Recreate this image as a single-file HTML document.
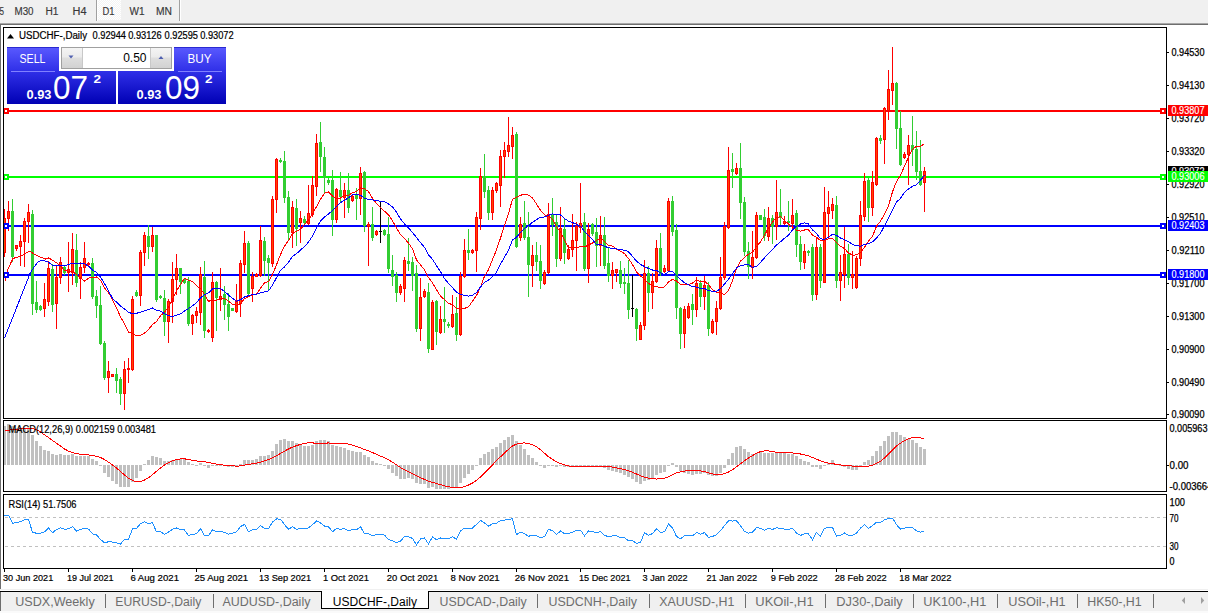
<!DOCTYPE html>
<html><head><meta charset="utf-8"><style>html,body{margin:0;padding:0;width:1208px;height:613px;overflow:hidden;background:#fff}</style></head>
<body><svg width="1208" height="613" style="position:absolute;left:0;top:0" shape-rendering="crispEdges" font-family='"Liberation Sans", sans-serif'><defs><pattern id="dither" width="2" height="2" patternUnits="userSpaceOnUse"><rect width="2" height="2" fill="#f4f4f4"/><rect width="1" height="1" fill="#ffffff"/><rect x="1" y="1" width="1" height="1" fill="#ffffff"/></pattern>
<linearGradient id="gBot" gradientUnits="userSpaceOnUse" x1="0" y1="47" x2="0" y2="104"><stop offset="0" stop-color="#5a5aff"/><stop offset="0.42" stop-color="#3030e8"/><stop offset="1" stop-color="#0000b4"/></linearGradient>
<linearGradient id="gBtn" x1="0" y1="0" x2="0" y2="1"><stop offset="0" stop-color="#f4f4f4"/><stop offset="0.45" stop-color="#ebebeb"/><stop offset="0.5" stop-color="#dedede"/><stop offset="1" stop-color="#d2d2d2"/></linearGradient>
</defs><rect x="0" y="0" width="1208" height="23" fill="#f0f0f0" /><rect x="97" y="0" width="24" height="20" fill="url(#dither)" /><rect x="96" y="0" width="1" height="21" fill="#a0a0a0" /><rect x="97" y="0" width="1" height="21" fill="#ffffff" /><rect x="179" y="0" width="1" height="21" fill="#a0a0a0" /><rect x="180" y="0" width="1" height="21" fill="#ffffff" /><text x="-0.5" y="15" font-size="10" fill="#383838" font-weight="normal" text-anchor="start" textLength="4.5" lengthAdjust="spacingAndGlyphs" stroke="#383838" stroke-width="0.15" >5</text><text x="14.5" y="15" font-size="10" fill="#383838" font-weight="normal" text-anchor="start" textLength="19" lengthAdjust="spacingAndGlyphs" stroke="#383838" stroke-width="0.15" >M30</text><text x="45.5" y="15" font-size="10" fill="#383838" font-weight="normal" text-anchor="start" textLength="13" lengthAdjust="spacingAndGlyphs" stroke="#383838" stroke-width="0.15" >H1</text><text x="72.5" y="15" font-size="10" fill="#383838" font-weight="normal" text-anchor="start" textLength="14" lengthAdjust="spacingAndGlyphs" stroke="#383838" stroke-width="0.15" >H4</text><text x="102.5" y="15" font-size="10" fill="#383838" font-weight="normal" text-anchor="start" textLength="12" lengthAdjust="spacingAndGlyphs" stroke="#383838" stroke-width="0.15" >D1</text><text x="129.5" y="15" font-size="10" fill="#383838" font-weight="normal" text-anchor="start" textLength="15" lengthAdjust="spacingAndGlyphs" stroke="#383838" stroke-width="0.15" >W1</text><text x="156" y="15" font-size="10" fill="#383838" font-weight="normal" text-anchor="start" textLength="16" lengthAdjust="spacingAndGlyphs" stroke="#383838" stroke-width="0.15" >MN</text><rect x="0" y="23" width="1208" height="1" fill="#a8a8a8" /><rect x="0" y="24" width="1208" height="1" fill="#6e6e6e" /><rect x="0" y="25" width="1" height="564" fill="#6e6e6e" /><rect x="1" y="25" width="1166" height="564" fill="#ffffff" /><clipPath id="cMain"><rect x="4" y="28" width="1162" height="390"/></clipPath><clipPath id="cMacd"><rect x="4" y="421" width="1162" height="70"/></clipPath><clipPath id="cRsi"><rect x="4" y="495" width="1162" height="73"/></clipPath><g clip-path="url(#cMain)"><rect x="4" y="110" width="1162" height="2" fill="#ff0000" /><rect x="4" y="176" width="1162" height="2" fill="#00ff00" /><rect x="4" y="225" width="1162" height="2" fill="#0000ff" /><rect x="4" y="274" width="1162" height="2" fill="#0000ff" /><rect x="4" y="209.0" width="1" height="48.0" fill="#ff0000"/><rect x="3" y="218.0" width="3" height="35.0" fill="#ff0000"/><rect x="4" y="219.0" width="1" height="33.0" fill="#ff4500"/><rect x="8" y="201.0" width="1" height="30.0" fill="#ff0000"/><rect x="7" y="211.0" width="3" height="8.0" fill="#ff0000"/><rect x="8" y="212.0" width="1" height="6.0" fill="#ff4500"/><rect x="12" y="199.0" width="1" height="63.0" fill="#32cd32"/><rect x="11" y="211.0" width="3" height="46.0" fill="#32cd32"/><rect x="16" y="245.0" width="1" height="6.0" fill="#ff0000"/><rect x="15" y="245.0" width="3" height="4.0" fill="#ff0000"/><rect x="16" y="246.0" width="1" height="2.0" fill="#ff4500"/><rect x="20" y="235.0" width="1" height="31.0" fill="#ff0000"/><rect x="19" y="241.0" width="3" height="6.0" fill="#ff0000"/><rect x="20" y="242.0" width="1" height="4.0" fill="#ff4500"/><rect x="24" y="218.0" width="1" height="49.0" fill="#ff0000"/><rect x="23" y="221.0" width="3" height="21.0" fill="#ff0000"/><rect x="24" y="222.0" width="1" height="19.0" fill="#ff4500"/><rect x="28" y="204.0" width="1" height="39.0" fill="#ff0000"/><rect x="27" y="212.0" width="3" height="10.0" fill="#ff0000"/><rect x="28" y="213.0" width="1" height="8.0" fill="#ff4500"/><rect x="32" y="210.0" width="1" height="105.0" fill="#32cd32"/><rect x="31" y="214.0" width="3" height="90.0" fill="#32cd32"/><rect x="36" y="281.0" width="1" height="32.0" fill="#32cd32"/><rect x="35" y="302.0" width="3" height="8.0" fill="#32cd32"/><rect x="40" y="305.0" width="1" height="6.0" fill="#32cd32"/><rect x="39" y="306.0" width="3" height="4.0" fill="#32cd32"/><rect x="44" y="283.0" width="1" height="34.0" fill="#ff0000"/><rect x="43" y="299.0" width="3" height="10.0" fill="#ff0000"/><rect x="44" y="300.0" width="1" height="8.0" fill="#ff4500"/><rect x="48" y="261.0" width="1" height="45.0" fill="#ff0000"/><rect x="47" y="268.0" width="3" height="34.0" fill="#ff0000"/><rect x="48" y="269.0" width="1" height="32.0" fill="#ff4500"/><rect x="52" y="264.0" width="1" height="48.0" fill="#32cd32"/><rect x="51" y="269.0" width="3" height="36.0" fill="#32cd32"/><rect x="56" y="265.0" width="1" height="64.0" fill="#ff0000"/><rect x="55" y="277.0" width="3" height="27.0" fill="#ff0000"/><rect x="56" y="278.0" width="1" height="25.0" fill="#ff4500"/><rect x="60" y="257.0" width="1" height="27.0" fill="#ff0000"/><rect x="59" y="262.0" width="3" height="16.0" fill="#ff0000"/><rect x="60" y="263.0" width="1" height="14.0" fill="#ff4500"/><rect x="64" y="266.0" width="1" height="9.0" fill="#32cd32"/><rect x="63" y="267.0" width="3" height="6.0" fill="#32cd32"/><rect x="68" y="242.0" width="1" height="50.0" fill="#ff0000"/><rect x="67" y="269.0" width="3" height="4.0" fill="#ff0000"/><rect x="68" y="270.0" width="1" height="2.0" fill="#ff4500"/><rect x="72" y="233.0" width="1" height="52.0" fill="#ff0000"/><rect x="71" y="249.0" width="3" height="24.0" fill="#ff0000"/><rect x="72" y="250.0" width="1" height="22.0" fill="#ff4500"/><rect x="76" y="234.0" width="1" height="53.0" fill="#32cd32"/><rect x="75" y="250.0" width="3" height="33.0" fill="#32cd32"/><rect x="80" y="262.0" width="1" height="37.0" fill="#ff0000"/><rect x="79" y="267.0" width="3" height="12.0" fill="#ff0000"/><rect x="80" y="268.0" width="1" height="10.0" fill="#ff4500"/><rect x="84" y="242.0" width="1" height="31.0" fill="#ff0000"/><rect x="83" y="258.0" width="3" height="10.0" fill="#ff0000"/><rect x="84" y="259.0" width="1" height="8.0" fill="#ff4500"/><rect x="88" y="262.0" width="1" height="5.0" fill="#ff0000"/><rect x="87" y="263.0" width="3" height="2.0" fill="#ff0000"/><rect x="92" y="258.0" width="1" height="41.0" fill="#32cd32"/><rect x="91" y="263.0" width="3" height="34.0" fill="#32cd32"/><rect x="96" y="290.0" width="1" height="28.0" fill="#32cd32"/><rect x="95" y="296.0" width="3" height="10.0" fill="#32cd32"/><rect x="100" y="286.0" width="1" height="59.0" fill="#32cd32"/><rect x="99" y="305.0" width="3" height="39.0" fill="#32cd32"/><rect x="104" y="341.0" width="1" height="39.0" fill="#32cd32"/><rect x="103" y="343.0" width="3" height="35.0" fill="#32cd32"/><rect x="108" y="361.0" width="1" height="32.0" fill="#ff0000"/><rect x="107" y="371.0" width="3" height="7.0" fill="#ff0000"/><rect x="108" y="372.0" width="1" height="5.0" fill="#ff4500"/><rect x="112" y="374.0" width="1" height="3.0" fill="#ff0000"/><rect x="111" y="374.0" width="3" height="3.0" fill="#ff0000"/><rect x="112" y="375.0" width="1" height="1.0" fill="#ff4500"/><rect x="116" y="368.0" width="1" height="25.0" fill="#32cd32"/><rect x="115" y="374.0" width="3" height="7.0" fill="#32cd32"/><rect x="120" y="377.0" width="1" height="28.0" fill="#32cd32"/><rect x="119" y="379.0" width="3" height="15.0" fill="#32cd32"/><rect x="124" y="361.0" width="1" height="49.0" fill="#ff0000"/><rect x="123" y="369.0" width="3" height="25.0" fill="#ff0000"/><rect x="124" y="370.0" width="1" height="23.0" fill="#ff4500"/><rect x="128" y="358.0" width="1" height="25.0" fill="#ff0000"/><rect x="127" y="368.0" width="3" height="2.0" fill="#ff0000"/><rect x="132" y="296.0" width="1" height="75.0" fill="#ff0000"/><rect x="131" y="299.0" width="3" height="71.0" fill="#ff0000"/><rect x="132" y="300.0" width="1" height="69.0" fill="#ff4500"/><rect x="136" y="290.0" width="1" height="7.0" fill="#32cd32"/><rect x="135" y="292.0" width="3" height="4.0" fill="#32cd32"/><rect x="140" y="250.0" width="1" height="56.0" fill="#ff0000"/><rect x="139" y="252.0" width="3" height="44.0" fill="#ff0000"/><rect x="140" y="253.0" width="1" height="42.0" fill="#ff4500"/><rect x="144" y="232.0" width="1" height="34.0" fill="#ff0000"/><rect x="143" y="235.0" width="3" height="18.0" fill="#ff0000"/><rect x="144" y="236.0" width="1" height="16.0" fill="#ff4500"/><rect x="148" y="225.0" width="1" height="34.0" fill="#32cd32"/><rect x="147" y="236.0" width="3" height="11.0" fill="#32cd32"/><rect x="152" y="227.0" width="1" height="25.0" fill="#ff0000"/><rect x="151" y="235.0" width="3" height="12.0" fill="#ff0000"/><rect x="152" y="236.0" width="1" height="10.0" fill="#ff4500"/><rect x="156" y="235.0" width="1" height="67.0" fill="#32cd32"/><rect x="155" y="235.0" width="3" height="65.0" fill="#32cd32"/><rect x="160" y="295.0" width="1" height="4.0" fill="#32cd32"/><rect x="159" y="296.0" width="3" height="2.0" fill="#32cd32"/><rect x="164" y="290.0" width="1" height="46.0" fill="#32cd32"/><rect x="163" y="298.0" width="3" height="24.0" fill="#32cd32"/><rect x="168" y="299.0" width="1" height="44.0" fill="#ff0000"/><rect x="167" y="301.0" width="3" height="21.0" fill="#ff0000"/><rect x="168" y="302.0" width="1" height="19.0" fill="#ff4500"/><rect x="172" y="262.0" width="1" height="61.0" fill="#ff0000"/><rect x="171" y="279.0" width="3" height="23.0" fill="#ff0000"/><rect x="172" y="280.0" width="1" height="21.0" fill="#ff4500"/><rect x="176" y="254.0" width="1" height="41.0" fill="#ff0000"/><rect x="175" y="268.0" width="3" height="12.0" fill="#ff0000"/><rect x="176" y="269.0" width="1" height="10.0" fill="#ff4500"/><rect x="180" y="268.0" width="1" height="26.0" fill="#32cd32"/><rect x="179" y="268.0" width="3" height="14.0" fill="#32cd32"/><rect x="184" y="278.0" width="1" height="6.0" fill="#32cd32"/><rect x="183" y="279.0" width="3" height="4.0" fill="#32cd32"/><rect x="188" y="277.0" width="1" height="49.0" fill="#32cd32"/><rect x="187" y="281.0" width="3" height="43.0" fill="#32cd32"/><rect x="192" y="314.0" width="1" height="21.0" fill="#ff0000"/><rect x="191" y="315.0" width="3" height="9.0" fill="#ff0000"/><rect x="192" y="316.0" width="1" height="7.0" fill="#ff4500"/><rect x="196" y="307.0" width="1" height="16.0" fill="#ff0000"/><rect x="195" y="311.0" width="3" height="5.0" fill="#ff0000"/><rect x="196" y="312.0" width="1" height="3.0" fill="#ff4500"/><rect x="200" y="267.0" width="1" height="58.0" fill="#ff0000"/><rect x="199" y="274.0" width="3" height="39.0" fill="#ff0000"/><rect x="200" y="275.0" width="1" height="37.0" fill="#ff4500"/><rect x="204" y="261.0" width="1" height="77.0" fill="#32cd32"/><rect x="203" y="277.0" width="3" height="54.0" fill="#32cd32"/><rect x="208" y="329.0" width="1" height="4.0" fill="#ff0000"/><rect x="207" y="330.0" width="3" height="2.0" fill="#ff0000"/><rect x="212" y="272.0" width="1" height="70.0" fill="#ff0000"/><rect x="211" y="282.0" width="3" height="56.0" fill="#ff0000"/><rect x="212" y="283.0" width="1" height="54.0" fill="#ff4500"/><rect x="216" y="281.0" width="1" height="50.0" fill="#32cd32"/><rect x="215" y="282.0" width="3" height="16.0" fill="#32cd32"/><rect x="220" y="268.0" width="1" height="43.0" fill="#ff0000"/><rect x="219" y="296.0" width="3" height="4.0" fill="#ff0000"/><rect x="220" y="297.0" width="1" height="2.0" fill="#ff4500"/><rect x="224" y="286.0" width="1" height="34.0" fill="#32cd32"/><rect x="223" y="294.0" width="3" height="11.0" fill="#32cd32"/><rect x="228" y="293.0" width="1" height="38.0" fill="#32cd32"/><rect x="227" y="304.0" width="3" height="13.0" fill="#32cd32"/><rect x="232" y="308.0" width="1" height="3.0" fill="#32cd32"/><rect x="231" y="308.0" width="3" height="3.0" fill="#32cd32"/><rect x="236" y="284.0" width="1" height="29.0" fill="#ff0000"/><rect x="235" y="301.0" width="3" height="11.0" fill="#ff0000"/><rect x="236" y="302.0" width="1" height="9.0" fill="#ff4500"/><rect x="240" y="260.0" width="1" height="57.0" fill="#ff0000"/><rect x="239" y="263.0" width="3" height="41.0" fill="#ff0000"/><rect x="240" y="264.0" width="1" height="39.0" fill="#ff4500"/><rect x="244" y="231.0" width="1" height="42.0" fill="#ff0000"/><rect x="243" y="243.0" width="3" height="22.0" fill="#ff0000"/><rect x="244" y="244.0" width="1" height="20.0" fill="#ff4500"/><rect x="248" y="241.0" width="1" height="54.0" fill="#32cd32"/><rect x="247" y="243.0" width="3" height="51.0" fill="#32cd32"/><rect x="252" y="272.0" width="1" height="30.0" fill="#ff0000"/><rect x="251" y="276.0" width="3" height="13.0" fill="#ff0000"/><rect x="252" y="277.0" width="1" height="11.0" fill="#ff4500"/><rect x="256" y="273.0" width="1" height="4.0" fill="#ff0000"/><rect x="255" y="274.0" width="3" height="3.0" fill="#ff0000"/><rect x="256" y="275.0" width="1" height="1.0" fill="#ff4500"/><rect x="260" y="226.0" width="1" height="51.0" fill="#ff0000"/><rect x="259" y="240.0" width="3" height="36.0" fill="#ff0000"/><rect x="260" y="241.0" width="1" height="34.0" fill="#ff4500"/><rect x="264" y="237.0" width="1" height="39.0" fill="#32cd32"/><rect x="263" y="241.0" width="3" height="20.0" fill="#32cd32"/><rect x="268" y="255.0" width="1" height="36.0" fill="#32cd32"/><rect x="267" y="258.0" width="3" height="5.0" fill="#32cd32"/><rect x="272" y="196.0" width="1" height="71.0" fill="#ff0000"/><rect x="271" y="199.0" width="3" height="65.0" fill="#ff0000"/><rect x="272" y="200.0" width="1" height="63.0" fill="#ff4500"/><rect x="276" y="158.0" width="1" height="55.0" fill="#ff0000"/><rect x="275" y="159.0" width="3" height="41.0" fill="#ff0000"/><rect x="276" y="160.0" width="1" height="39.0" fill="#ff4500"/><rect x="280" y="158.0" width="1" height="5.0" fill="#32cd32"/><rect x="279" y="160.0" width="3" height="2.0" fill="#32cd32"/><rect x="284" y="151.0" width="1" height="52.0" fill="#32cd32"/><rect x="283" y="161.0" width="3" height="37.0" fill="#32cd32"/><rect x="288" y="191.0" width="1" height="49.0" fill="#32cd32"/><rect x="287" y="197.0" width="3" height="36.0" fill="#32cd32"/><rect x="292" y="201.0" width="1" height="47.0" fill="#ff0000"/><rect x="291" y="207.0" width="3" height="26.0" fill="#ff0000"/><rect x="292" y="208.0" width="1" height="24.0" fill="#ff4500"/><rect x="296" y="199.0" width="1" height="47.0" fill="#32cd32"/><rect x="295" y="208.0" width="3" height="21.0" fill="#32cd32"/><rect x="300" y="211.0" width="1" height="32.0" fill="#ff0000"/><rect x="299" y="218.0" width="3" height="5.0" fill="#ff0000"/><rect x="300" y="219.0" width="1" height="3.0" fill="#ff4500"/><rect x="304" y="216.0" width="1" height="8.0" fill="#32cd32"/><rect x="303" y="219.0" width="3" height="4.0" fill="#32cd32"/><rect x="308" y="185.0" width="1" height="40.0" fill="#ff0000"/><rect x="307" y="213.0" width="3" height="11.0" fill="#ff0000"/><rect x="308" y="214.0" width="1" height="9.0" fill="#ff4500"/><rect x="312" y="176.0" width="1" height="41.0" fill="#ff0000"/><rect x="311" y="185.0" width="3" height="30.0" fill="#ff0000"/><rect x="312" y="186.0" width="1" height="28.0" fill="#ff4500"/><rect x="316" y="134.0" width="1" height="62.0" fill="#ff0000"/><rect x="315" y="143.0" width="3" height="44.0" fill="#ff0000"/><rect x="316" y="144.0" width="1" height="42.0" fill="#ff4500"/><rect x="320" y="122.0" width="1" height="50.0" fill="#32cd32"/><rect x="319" y="142.0" width="3" height="15.0" fill="#32cd32"/><rect x="324" y="147.0" width="1" height="46.0" fill="#32cd32"/><rect x="323" y="157.0" width="3" height="21.0" fill="#32cd32"/><rect x="328" y="178.0" width="1" height="7.0" fill="#32cd32"/><rect x="327" y="180.0" width="3" height="3.0" fill="#32cd32"/><rect x="332" y="170.0" width="1" height="66.0" fill="#32cd32"/><rect x="331" y="180.0" width="3" height="40.0" fill="#32cd32"/><rect x="336" y="188.0" width="1" height="35.0" fill="#ff0000"/><rect x="335" y="189.0" width="3" height="31.0" fill="#ff0000"/><rect x="336" y="190.0" width="1" height="29.0" fill="#ff4500"/><rect x="340" y="172.0" width="1" height="31.0" fill="#32cd32"/><rect x="339" y="190.0" width="3" height="7.0" fill="#32cd32"/><rect x="344" y="183.0" width="1" height="35.0" fill="#ff0000"/><rect x="343" y="190.0" width="3" height="8.0" fill="#ff0000"/><rect x="344" y="191.0" width="1" height="6.0" fill="#ff4500"/><rect x="348" y="173.0" width="1" height="40.0" fill="#32cd32"/><rect x="347" y="190.0" width="3" height="18.0" fill="#32cd32"/><rect x="352" y="194.0" width="1" height="8.0" fill="#ff0000"/><rect x="351" y="196.0" width="3" height="5.0" fill="#ff0000"/><rect x="352" y="197.0" width="1" height="3.0" fill="#ff4500"/><rect x="356" y="188.0" width="1" height="32.0" fill="#32cd32"/><rect x="355" y="194.0" width="3" height="5.0" fill="#32cd32"/><rect x="360" y="167.0" width="1" height="48.0" fill="#ff0000"/><rect x="359" y="173.0" width="3" height="26.0" fill="#ff0000"/><rect x="360" y="174.0" width="1" height="24.0" fill="#ff4500"/><rect x="364" y="171.0" width="1" height="61.0" fill="#32cd32"/><rect x="363" y="172.0" width="3" height="54.0" fill="#32cd32"/><rect x="368" y="222.0" width="1" height="44.0" fill="#ff0000"/><rect x="367" y="224.0" width="3" height="3.0" fill="#ff0000"/><rect x="368" y="225.0" width="1" height="1.0" fill="#ff4500"/><rect x="372" y="207.0" width="1" height="34.0" fill="#32cd32"/><rect x="371" y="224.0" width="3" height="14.0" fill="#32cd32"/><rect x="376" y="230.0" width="1" height="6.0" fill="#ff0000"/><rect x="375" y="231.0" width="3" height="4.0" fill="#ff0000"/><rect x="376" y="232.0" width="1" height="2.0" fill="#ff4500"/><rect x="380" y="201.0" width="1" height="42.0" fill="#000000"/><rect x="379" y="231.0" width="3" height="1.0" fill="#000000"/><rect x="384" y="229.0" width="1" height="7.0" fill="#32cd32"/><rect x="383" y="230.0" width="3" height="5.0" fill="#32cd32"/><rect x="388" y="217.0" width="1" height="56.0" fill="#32cd32"/><rect x="387" y="234.0" width="3" height="35.0" fill="#32cd32"/><rect x="392" y="255.0" width="1" height="31.0" fill="#32cd32"/><rect x="391" y="270.0" width="3" height="7.0" fill="#32cd32"/><rect x="396" y="272.0" width="1" height="30.0" fill="#32cd32"/><rect x="395" y="275.0" width="3" height="18.0" fill="#32cd32"/><rect x="400" y="284.0" width="1" height="11.0" fill="#ff0000"/><rect x="399" y="286.0" width="3" height="7.0" fill="#ff0000"/><rect x="400" y="287.0" width="1" height="5.0" fill="#ff4500"/><rect x="404" y="257.0" width="1" height="45.0" fill="#ff0000"/><rect x="403" y="260.0" width="3" height="29.0" fill="#ff0000"/><rect x="404" y="261.0" width="1" height="27.0" fill="#ff4500"/><rect x="408" y="238.0" width="1" height="33.0" fill="#32cd32"/><rect x="407" y="261.0" width="3" height="3.0" fill="#32cd32"/><rect x="412" y="257.0" width="1" height="34.0" fill="#32cd32"/><rect x="411" y="262.0" width="3" height="14.0" fill="#32cd32"/><rect x="416" y="265.0" width="1" height="67.0" fill="#32cd32"/><rect x="415" y="273.0" width="3" height="56.0" fill="#32cd32"/><rect x="420" y="278.0" width="1" height="63.0" fill="#ff0000"/><rect x="419" y="297.0" width="3" height="32.0" fill="#ff0000"/><rect x="420" y="298.0" width="1" height="30.0" fill="#ff4500"/><rect x="424" y="289.0" width="1" height="9.0" fill="#ff0000"/><rect x="423" y="291.0" width="3" height="6.0" fill="#ff0000"/><rect x="424" y="292.0" width="1" height="4.0" fill="#ff4500"/><rect x="428" y="283.0" width="1" height="70.0" fill="#32cd32"/><rect x="427" y="292.0" width="3" height="57.0" fill="#32cd32"/><rect x="432" y="300.0" width="1" height="50.0" fill="#ff0000"/><rect x="431" y="302.0" width="3" height="48.0" fill="#ff0000"/><rect x="432" y="303.0" width="1" height="46.0" fill="#ff4500"/><rect x="436" y="300.0" width="1" height="45.0" fill="#32cd32"/><rect x="435" y="301.0" width="3" height="31.0" fill="#32cd32"/><rect x="440" y="306.0" width="1" height="28.0" fill="#ff0000"/><rect x="439" y="319.0" width="3" height="14.0" fill="#ff0000"/><rect x="440" y="320.0" width="1" height="12.0" fill="#ff4500"/><rect x="444" y="287.0" width="1" height="46.0" fill="#32cd32"/><rect x="443" y="319.0" width="3" height="3.0" fill="#32cd32"/><rect x="448" y="322.0" width="1" height="6.0" fill="#32cd32"/><rect x="447" y="324.0" width="3" height="2.0" fill="#32cd32"/><rect x="452" y="295.0" width="1" height="33.0" fill="#ff0000"/><rect x="451" y="314.0" width="3" height="13.0" fill="#ff0000"/><rect x="452" y="315.0" width="1" height="11.0" fill="#ff4500"/><rect x="456" y="297.0" width="1" height="44.0" fill="#32cd32"/><rect x="455" y="313.0" width="3" height="22.0" fill="#32cd32"/><rect x="460" y="272.0" width="1" height="64.0" fill="#ff0000"/><rect x="459" y="276.0" width="3" height="59.0" fill="#ff0000"/><rect x="460" y="277.0" width="1" height="57.0" fill="#ff4500"/><rect x="464" y="239.0" width="1" height="39.0" fill="#ff0000"/><rect x="463" y="250.0" width="3" height="27.0" fill="#ff0000"/><rect x="464" y="251.0" width="1" height="25.0" fill="#ff4500"/><rect x="468" y="229.0" width="1" height="31.0" fill="#32cd32"/><rect x="467" y="250.0" width="3" height="3.0" fill="#32cd32"/><rect x="472" y="249.0" width="1" height="5.0" fill="#ff0000"/><rect x="471" y="250.0" width="3" height="3.0" fill="#ff0000"/><rect x="472" y="251.0" width="1" height="1.0" fill="#ff4500"/><rect x="476" y="212.0" width="1" height="60.0" fill="#ff0000"/><rect x="475" y="217.0" width="3" height="34.0" fill="#ff0000"/><rect x="476" y="218.0" width="1" height="32.0" fill="#ff4500"/><rect x="480" y="168.0" width="1" height="62.0" fill="#ff0000"/><rect x="479" y="176.0" width="3" height="43.0" fill="#ff0000"/><rect x="480" y="177.0" width="1" height="41.0" fill="#ff4500"/><rect x="484" y="154.0" width="1" height="44.0" fill="#32cd32"/><rect x="483" y="176.0" width="3" height="16.0" fill="#32cd32"/><rect x="488" y="186.0" width="1" height="34.0" fill="#32cd32"/><rect x="487" y="190.0" width="3" height="23.0" fill="#32cd32"/><rect x="492" y="187.0" width="1" height="33.0" fill="#ff0000"/><rect x="491" y="190.0" width="3" height="23.0" fill="#ff0000"/><rect x="492" y="191.0" width="1" height="21.0" fill="#ff4500"/><rect x="496" y="182.0" width="1" height="11.0" fill="#ff0000"/><rect x="495" y="183.0" width="3" height="8.0" fill="#ff0000"/><rect x="496" y="184.0" width="1" height="6.0" fill="#ff4500"/><rect x="500" y="150.0" width="1" height="57.0" fill="#ff0000"/><rect x="499" y="156.0" width="3" height="30.0" fill="#ff0000"/><rect x="500" y="157.0" width="1" height="28.0" fill="#ff4500"/><rect x="504" y="142.0" width="1" height="36.0" fill="#ff0000"/><rect x="503" y="150.0" width="3" height="7.0" fill="#ff0000"/><rect x="504" y="151.0" width="1" height="5.0" fill="#ff4500"/><rect x="508" y="117.0" width="1" height="40.0" fill="#ff0000"/><rect x="507" y="145.0" width="3" height="7.0" fill="#ff0000"/><rect x="508" y="146.0" width="1" height="5.0" fill="#ff4500"/><rect x="512" y="127.0" width="1" height="32.0" fill="#ff0000"/><rect x="511" y="135.0" width="3" height="12.0" fill="#ff0000"/><rect x="512" y="136.0" width="1" height="10.0" fill="#ff4500"/><rect x="516" y="132.0" width="1" height="116.0" fill="#32cd32"/><rect x="515" y="134.0" width="3" height="113.0" fill="#32cd32"/><rect x="520" y="217.0" width="1" height="24.0" fill="#ff0000"/><rect x="519" y="224.0" width="3" height="14.0" fill="#ff0000"/><rect x="520" y="225.0" width="1" height="12.0" fill="#ff4500"/><rect x="524" y="201.0" width="1" height="39.0" fill="#32cd32"/><rect x="523" y="223.0" width="3" height="15.0" fill="#32cd32"/><rect x="528" y="212.0" width="1" height="85.0" fill="#32cd32"/><rect x="527" y="237.0" width="3" height="28.0" fill="#32cd32"/><rect x="532" y="245.0" width="1" height="42.0" fill="#ff0000"/><rect x="531" y="255.0" width="3" height="11.0" fill="#ff0000"/><rect x="532" y="256.0" width="1" height="9.0" fill="#ff4500"/><rect x="536" y="242.0" width="1" height="29.0" fill="#32cd32"/><rect x="535" y="255.0" width="3" height="7.0" fill="#32cd32"/><rect x="540" y="245.0" width="1" height="44.0" fill="#32cd32"/><rect x="539" y="261.0" width="3" height="20.0" fill="#32cd32"/><rect x="544" y="270.0" width="1" height="15.0" fill="#ff0000"/><rect x="543" y="272.0" width="3" height="12.0" fill="#ff0000"/><rect x="544" y="273.0" width="1" height="10.0" fill="#ff4500"/><rect x="548" y="203.0" width="1" height="71.0" fill="#ff0000"/><rect x="547" y="214.0" width="3" height="59.0" fill="#ff0000"/><rect x="548" y="215.0" width="1" height="57.0" fill="#ff4500"/><rect x="552" y="198.0" width="1" height="38.0" fill="#32cd32"/><rect x="551" y="214.0" width="3" height="11.0" fill="#32cd32"/><rect x="556" y="215.0" width="1" height="52.0" fill="#32cd32"/><rect x="555" y="222.0" width="3" height="37.0" fill="#32cd32"/><rect x="560" y="207.0" width="1" height="54.0" fill="#ff0000"/><rect x="559" y="228.0" width="3" height="31.0" fill="#ff0000"/><rect x="560" y="229.0" width="1" height="29.0" fill="#ff4500"/><rect x="564" y="219.0" width="1" height="45.0" fill="#32cd32"/><rect x="563" y="229.0" width="3" height="24.0" fill="#32cd32"/><rect x="568" y="245.0" width="1" height="15.0" fill="#ff0000"/><rect x="567" y="249.0" width="3" height="10.0" fill="#ff0000"/><rect x="568" y="250.0" width="1" height="8.0" fill="#ff4500"/><rect x="572" y="214.0" width="1" height="43.0" fill="#ff0000"/><rect x="571" y="240.0" width="3" height="10.0" fill="#ff0000"/><rect x="572" y="241.0" width="1" height="8.0" fill="#ff4500"/><rect x="576" y="222.0" width="1" height="49.0" fill="#ff0000"/><rect x="575" y="226.0" width="3" height="15.0" fill="#ff0000"/><rect x="576" y="227.0" width="1" height="13.0" fill="#ff4500"/><rect x="580" y="183.0" width="1" height="50.0" fill="#ff0000"/><rect x="579" y="223.0" width="3" height="5.0" fill="#ff0000"/><rect x="580" y="224.0" width="1" height="3.0" fill="#ff4500"/><rect x="584" y="213.0" width="1" height="58.0" fill="#32cd32"/><rect x="583" y="222.0" width="3" height="47.0" fill="#32cd32"/><rect x="588" y="223.0" width="1" height="60.0" fill="#ff0000"/><rect x="587" y="229.0" width="3" height="40.0" fill="#ff0000"/><rect x="588" y="230.0" width="1" height="38.0" fill="#ff4500"/><rect x="592" y="223.0" width="1" height="13.0" fill="#32cd32"/><rect x="591" y="224.0" width="3" height="10.0" fill="#32cd32"/><rect x="596" y="218.0" width="1" height="49.0" fill="#32cd32"/><rect x="595" y="232.0" width="3" height="14.0" fill="#32cd32"/><rect x="600" y="216.0" width="1" height="50.0" fill="#ff0000"/><rect x="599" y="235.0" width="3" height="11.0" fill="#ff0000"/><rect x="600" y="236.0" width="1" height="9.0" fill="#ff4500"/><rect x="604" y="217.0" width="1" height="52.0" fill="#32cd32"/><rect x="603" y="235.0" width="3" height="31.0" fill="#32cd32"/><rect x="608" y="247.0" width="1" height="35.0" fill="#32cd32"/><rect x="607" y="263.0" width="3" height="13.0" fill="#32cd32"/><rect x="612" y="262.0" width="1" height="27.0" fill="#ff0000"/><rect x="611" y="270.0" width="3" height="6.0" fill="#ff0000"/><rect x="612" y="271.0" width="1" height="4.0" fill="#ff4500"/><rect x="616" y="269.0" width="1" height="13.0" fill="#ff0000"/><rect x="615" y="269.0" width="3" height="4.0" fill="#ff0000"/><rect x="616" y="270.0" width="1" height="2.0" fill="#ff4500"/><rect x="620" y="261.0" width="1" height="27.0" fill="#32cd32"/><rect x="619" y="270.0" width="3" height="14.0" fill="#32cd32"/><rect x="624" y="268.0" width="1" height="26.0" fill="#32cd32"/><rect x="623" y="282.0" width="3" height="2.0" fill="#32cd32"/><rect x="628" y="260.0" width="1" height="59.0" fill="#32cd32"/><rect x="627" y="283.0" width="3" height="27.0" fill="#32cd32"/><rect x="632" y="275.0" width="1" height="42.0" fill="#000000"/><rect x="631" y="308.0" width="3" height="1.0" fill="#000000"/><rect x="636" y="308.0" width="1" height="33.0" fill="#32cd32"/><rect x="635" y="309.0" width="3" height="20.0" fill="#32cd32"/><rect x="640" y="322.0" width="1" height="18.0" fill="#ff0000"/><rect x="639" y="325.0" width="3" height="15.0" fill="#ff0000"/><rect x="640" y="326.0" width="1" height="13.0" fill="#ff4500"/><rect x="644" y="260.0" width="1" height="70.0" fill="#ff0000"/><rect x="643" y="273.0" width="3" height="53.0" fill="#ff0000"/><rect x="644" y="274.0" width="1" height="51.0" fill="#ff4500"/><rect x="648" y="266.0" width="1" height="46.0" fill="#32cd32"/><rect x="647" y="273.0" width="3" height="20.0" fill="#32cd32"/><rect x="652" y="273.0" width="1" height="36.0" fill="#ff0000"/><rect x="651" y="281.0" width="3" height="12.0" fill="#ff0000"/><rect x="652" y="282.0" width="1" height="10.0" fill="#ff4500"/><rect x="656" y="240.0" width="1" height="43.0" fill="#ff0000"/><rect x="655" y="248.0" width="3" height="34.0" fill="#ff0000"/><rect x="656" y="249.0" width="1" height="32.0" fill="#ff4500"/><rect x="660" y="233.0" width="1" height="43.0" fill="#32cd32"/><rect x="659" y="248.0" width="3" height="26.0" fill="#32cd32"/><rect x="664" y="265.0" width="1" height="8.0" fill="#ff0000"/><rect x="663" y="268.0" width="3" height="4.0" fill="#ff0000"/><rect x="664" y="269.0" width="1" height="2.0" fill="#ff4500"/><rect x="668" y="198.0" width="1" height="74.0" fill="#ff0000"/><rect x="667" y="201.0" width="3" height="70.0" fill="#ff0000"/><rect x="668" y="202.0" width="1" height="68.0" fill="#ff4500"/><rect x="672" y="196.0" width="1" height="40.0" fill="#32cd32"/><rect x="671" y="201.0" width="3" height="31.0" fill="#32cd32"/><rect x="676" y="224.0" width="1" height="95.0" fill="#32cd32"/><rect x="675" y="230.0" width="3" height="78.0" fill="#32cd32"/><rect x="680" y="307.0" width="1" height="42.0" fill="#32cd32"/><rect x="679" y="308.0" width="3" height="26.0" fill="#32cd32"/><rect x="684" y="306.0" width="1" height="42.0" fill="#ff0000"/><rect x="683" y="309.0" width="3" height="25.0" fill="#ff0000"/><rect x="684" y="310.0" width="1" height="23.0" fill="#ff4500"/><rect x="688" y="303.0" width="1" height="16.0" fill="#ff0000"/><rect x="687" y="306.0" width="3" height="12.0" fill="#ff0000"/><rect x="688" y="307.0" width="1" height="10.0" fill="#ff4500"/><rect x="692" y="294.0" width="1" height="31.0" fill="#32cd32"/><rect x="691" y="304.0" width="3" height="6.0" fill="#32cd32"/><rect x="696" y="277.0" width="1" height="40.0" fill="#ff0000"/><rect x="695" y="283.0" width="3" height="27.0" fill="#ff0000"/><rect x="696" y="284.0" width="1" height="25.0" fill="#ff4500"/><rect x="700" y="280.0" width="1" height="27.0" fill="#32cd32"/><rect x="699" y="283.0" width="3" height="14.0" fill="#32cd32"/><rect x="704" y="276.0" width="1" height="34.0" fill="#ff0000"/><rect x="703" y="285.0" width="3" height="12.0" fill="#ff0000"/><rect x="704" y="286.0" width="1" height="10.0" fill="#ff4500"/><rect x="708" y="282.0" width="1" height="54.0" fill="#32cd32"/><rect x="707" y="285.0" width="3" height="44.0" fill="#32cd32"/><rect x="712" y="319.0" width="1" height="15.0" fill="#ff0000"/><rect x="711" y="321.0" width="3" height="12.0" fill="#ff0000"/><rect x="712" y="322.0" width="1" height="10.0" fill="#ff4500"/><rect x="716" y="301.0" width="1" height="34.0" fill="#ff0000"/><rect x="715" y="308.0" width="3" height="14.0" fill="#ff0000"/><rect x="716" y="309.0" width="1" height="12.0" fill="#ff4500"/><rect x="720" y="257.0" width="1" height="53.0" fill="#ff0000"/><rect x="719" y="277.0" width="3" height="32.0" fill="#ff0000"/><rect x="720" y="278.0" width="1" height="30.0" fill="#ff4500"/><rect x="724" y="222.0" width="1" height="58.0" fill="#ff0000"/><rect x="723" y="226.0" width="3" height="52.0" fill="#ff0000"/><rect x="724" y="227.0" width="1" height="50.0" fill="#ff4500"/><rect x="728" y="147.0" width="1" height="82.0" fill="#ff0000"/><rect x="727" y="170.0" width="3" height="58.0" fill="#ff0000"/><rect x="728" y="171.0" width="1" height="56.0" fill="#ff4500"/><rect x="732" y="153.0" width="1" height="35.0" fill="#32cd32"/><rect x="731" y="169.0" width="3" height="3.0" fill="#32cd32"/><rect x="736" y="163.0" width="1" height="12.0" fill="#ff0000"/><rect x="735" y="168.0" width="3" height="6.0" fill="#ff0000"/><rect x="736" y="169.0" width="1" height="4.0" fill="#ff4500"/><rect x="740" y="143.0" width="1" height="76.0" fill="#32cd32"/><rect x="739" y="168.0" width="3" height="35.0" fill="#32cd32"/><rect x="744" y="197.0" width="1" height="59.0" fill="#32cd32"/><rect x="743" y="202.0" width="3" height="50.0" fill="#32cd32"/><rect x="748" y="242.0" width="1" height="37.0" fill="#32cd32"/><rect x="747" y="251.0" width="3" height="16.0" fill="#32cd32"/><rect x="752" y="231.0" width="1" height="48.0" fill="#ff0000"/><rect x="751" y="257.0" width="3" height="11.0" fill="#ff0000"/><rect x="752" y="258.0" width="1" height="9.0" fill="#ff4500"/><rect x="756" y="212.0" width="1" height="47.0" fill="#ff0000"/><rect x="755" y="215.0" width="3" height="43.0" fill="#ff0000"/><rect x="756" y="216.0" width="1" height="41.0" fill="#ff4500"/><rect x="760" y="215.0" width="1" height="5.0" fill="#32cd32"/><rect x="759" y="215.0" width="3" height="5.0" fill="#32cd32"/><rect x="764" y="209.0" width="1" height="32.0" fill="#32cd32"/><rect x="763" y="217.0" width="3" height="19.0" fill="#32cd32"/><rect x="768" y="207.0" width="1" height="34.0" fill="#ff0000"/><rect x="767" y="218.0" width="3" height="19.0" fill="#ff0000"/><rect x="768" y="219.0" width="1" height="17.0" fill="#ff4500"/><rect x="772" y="215.0" width="1" height="29.0" fill="#32cd32"/><rect x="771" y="218.0" width="3" height="9.0" fill="#32cd32"/><rect x="776" y="180.0" width="1" height="60.0" fill="#ff0000"/><rect x="775" y="212.0" width="3" height="15.0" fill="#ff0000"/><rect x="776" y="213.0" width="1" height="13.0" fill="#ff4500"/><rect x="780" y="189.0" width="1" height="36.0" fill="#32cd32"/><rect x="779" y="212.0" width="3" height="6.0" fill="#32cd32"/><rect x="784" y="216.0" width="1" height="9.0" fill="#ff0000"/><rect x="783" y="221.0" width="3" height="3.0" fill="#ff0000"/><rect x="784" y="222.0" width="1" height="1.0" fill="#ff4500"/><rect x="788" y="201.0" width="1" height="30.0" fill="#32cd32"/><rect x="787" y="221.0" width="3" height="2.0" fill="#32cd32"/><rect x="792" y="199.0" width="1" height="32.0" fill="#ff0000"/><rect x="791" y="215.0" width="3" height="9.0" fill="#ff0000"/><rect x="792" y="216.0" width="1" height="7.0" fill="#ff4500"/><rect x="796" y="210.0" width="1" height="47.0" fill="#32cd32"/><rect x="795" y="213.0" width="3" height="32.0" fill="#32cd32"/><rect x="800" y="236.0" width="1" height="34.0" fill="#32cd32"/><rect x="799" y="244.0" width="3" height="18.0" fill="#32cd32"/><rect x="804" y="244.0" width="1" height="25.0" fill="#ff0000"/><rect x="803" y="251.0" width="3" height="12.0" fill="#ff0000"/><rect x="804" y="252.0" width="1" height="10.0" fill="#ff4500"/><rect x="808" y="250.0" width="1" height="6.0" fill="#32cd32"/><rect x="807" y="251.0" width="3" height="2.0" fill="#32cd32"/><rect x="812" y="244.0" width="1" height="57.0" fill="#32cd32"/><rect x="811" y="247.0" width="3" height="48.0" fill="#32cd32"/><rect x="816" y="238.0" width="1" height="62.0" fill="#ff0000"/><rect x="815" y="247.0" width="3" height="48.0" fill="#ff0000"/><rect x="816" y="248.0" width="1" height="46.0" fill="#ff4500"/><rect x="820" y="244.0" width="1" height="44.0" fill="#32cd32"/><rect x="819" y="247.0" width="3" height="34.0" fill="#32cd32"/><rect x="824" y="187.0" width="1" height="96.0" fill="#ff0000"/><rect x="823" y="212.0" width="3" height="71.0" fill="#ff0000"/><rect x="824" y="213.0" width="1" height="69.0" fill="#ff4500"/><rect x="828" y="191.0" width="1" height="47.0" fill="#ff0000"/><rect x="827" y="207.0" width="3" height="7.0" fill="#ff0000"/><rect x="828" y="208.0" width="1" height="5.0" fill="#ff4500"/><rect x="832" y="198.0" width="1" height="21.0" fill="#ff0000"/><rect x="831" y="204.0" width="3" height="7.0" fill="#ff0000"/><rect x="832" y="205.0" width="1" height="5.0" fill="#ff4500"/><rect x="836" y="196.0" width="1" height="92.0" fill="#32cd32"/><rect x="835" y="205.0" width="3" height="76.0" fill="#32cd32"/><rect x="840" y="255.0" width="1" height="46.0" fill="#ff0000"/><rect x="839" y="272.0" width="3" height="9.0" fill="#ff0000"/><rect x="840" y="273.0" width="1" height="7.0" fill="#ff4500"/><rect x="844" y="227.0" width="1" height="61.0" fill="#ff0000"/><rect x="843" y="254.0" width="3" height="21.0" fill="#ff0000"/><rect x="844" y="255.0" width="1" height="19.0" fill="#ff4500"/><rect x="848" y="244.0" width="1" height="41.0" fill="#32cd32"/><rect x="847" y="254.0" width="3" height="24.0" fill="#32cd32"/><rect x="852" y="251.0" width="1" height="38.0" fill="#ff0000"/><rect x="851" y="274.0" width="3" height="4.0" fill="#ff0000"/><rect x="852" y="275.0" width="1" height="2.0" fill="#ff4500"/><rect x="856" y="256.0" width="1" height="33.0" fill="#ff0000"/><rect x="855" y="258.0" width="3" height="30.0" fill="#ff0000"/><rect x="856" y="259.0" width="1" height="28.0" fill="#ff4500"/><rect x="860" y="201.0" width="1" height="65.0" fill="#ff0000"/><rect x="859" y="215.0" width="3" height="44.0" fill="#ff0000"/><rect x="860" y="216.0" width="1" height="42.0" fill="#ff4500"/><rect x="864" y="173.0" width="1" height="48.0" fill="#ff0000"/><rect x="863" y="181.0" width="3" height="36.0" fill="#ff0000"/><rect x="864" y="182.0" width="1" height="34.0" fill="#ff4500"/><rect x="868" y="178.0" width="1" height="44.0" fill="#32cd32"/><rect x="867" y="180.0" width="3" height="28.0" fill="#32cd32"/><rect x="872" y="171.0" width="1" height="45.0" fill="#ff0000"/><rect x="871" y="182.0" width="3" height="26.0" fill="#ff0000"/><rect x="872" y="183.0" width="1" height="24.0" fill="#ff4500"/><rect x="876" y="137.0" width="1" height="49.0" fill="#ff0000"/><rect x="875" y="138.0" width="3" height="47.0" fill="#ff0000"/><rect x="876" y="139.0" width="1" height="45.0" fill="#ff4500"/><rect x="880" y="135.0" width="1" height="9.0" fill="#32cd32"/><rect x="879" y="138.0" width="3" height="3.0" fill="#32cd32"/><rect x="884" y="107.0" width="1" height="57.0" fill="#ff0000"/><rect x="883" y="108.0" width="3" height="32.0" fill="#ff0000"/><rect x="884" y="109.0" width="1" height="30.0" fill="#ff4500"/><rect x="888" y="70.0" width="1" height="50.0" fill="#ff0000"/><rect x="887" y="89.0" width="3" height="22.0" fill="#ff0000"/><rect x="888" y="90.0" width="1" height="20.0" fill="#ff4500"/><rect x="892" y="47.0" width="1" height="58.0" fill="#ff0000"/><rect x="891" y="83.0" width="3" height="8.0" fill="#ff0000"/><rect x="892" y="84.0" width="1" height="6.0" fill="#ff4500"/><rect x="896" y="82.0" width="1" height="67.0" fill="#32cd32"/><rect x="895" y="83.0" width="3" height="46.0" fill="#32cd32"/><rect x="900" y="111.0" width="1" height="55.0" fill="#32cd32"/><rect x="899" y="128.0" width="3" height="37.0" fill="#32cd32"/><rect x="904" y="152.0" width="1" height="7.0" fill="#ff0000"/><rect x="903" y="154.0" width="3" height="4.0" fill="#ff0000"/><rect x="904" y="155.0" width="1" height="2.0" fill="#ff4500"/><rect x="908" y="135.0" width="1" height="50.0" fill="#ff0000"/><rect x="907" y="145.0" width="3" height="10.0" fill="#ff0000"/><rect x="908" y="146.0" width="1" height="8.0" fill="#ff4500"/><rect x="912" y="116.0" width="1" height="50.0" fill="#32cd32"/><rect x="911" y="145.0" width="3" height="5.0" fill="#32cd32"/><rect x="916" y="131.0" width="1" height="49.0" fill="#32cd32"/><rect x="915" y="149.0" width="3" height="23.0" fill="#32cd32"/><rect x="920" y="140.0" width="1" height="46.0" fill="#32cd32"/><rect x="919" y="171.0" width="3" height="14.0" fill="#32cd32"/><rect x="924" y="167.0" width="1" height="45.0" fill="#ff0000"/><rect x="923" y="171.0" width="3" height="12.0" fill="#ff0000"/><rect x="924" y="172.0" width="1" height="10.0" fill="#ff4500"/><polyline points="4.8,281.5 8.0,269.1 12.9,258.5 21.0,256.0 29.7,251.1 35.3,254.8 45.2,259.1 48.9,257.9 56.5,262.85714285714283 60.5,266.0 64.5,270.35714285714283 68.5,271.2857142857143 72.5,271.57142857142856 76.5,274.5 80.5,277.7857142857143 84.5,281.07142857142856 88.5,278.2142857142857 92.5,277.2857142857143 96.5,277.0 100.5,280.14285714285717 104.5,287.92857142857144 108.5,292.7142857142857 112.5,299.64285714285717 116.5,308.07142857142856 120.5,316.7142857142857 124.5,323.85714285714283 128.5,332.35714285714283 132.5,333.57142857142856 136.5,335.57142857142856 140.5,335.14285714285717 144.5,333.14285714285717 148.5,329.57142857142856 152.5,324.57142857142856 156.5,321.42857142857144 160.5,315.7142857142857 164.5,312.14285714285717 168.5,306.92857142857144 172.5,299.7142857142857 176.5,290.7857142857143 180.5,284.5 184.5,278.35714285714283 188.5,280.07142857142856 192.5,281.5 196.5,285.7142857142857 200.5,288.5 204.5,294.5 208.5,301.2857142857143 212.5,300.07142857142856 216.5,300.07142857142856 220.5,298.2857142857143 224.5,298.5 228.5,301.14285714285717 232.5,304.14285714285717 236.5,305.57142857142856 240.5,304.2142857142857 244.5,298.5 248.5,296.92857142857144 252.5,294.42857142857144 256.5,294.42857142857144 260.5,288.0 264.5,283.0 268.5,281.57142857142856 272.5,274.57142857142856 276.5,264.7857142857143 280.5,254.57142857142858 284.5,246.07142857142858 288.5,240.5 292.5,233.78571428571428 296.5,231.28571428571428 300.5,229.5 304.5,224.42857142857142 308.5,219.92857142857142 312.5,213.57142857142858 316.5,206.64285714285714 320.5,199.21428571428572 324.5,193.14285714285714 328.5,191.92857142857142 332.5,196.21428571428572 336.5,198.21428571428572 340.5,198.14285714285714 344.5,195.14285714285714 348.5,195.14285714285714 352.5,192.85714285714286 356.5,191.42857142857142 360.5,187.92857142857142 364.5,188.78571428571428 368.5,191.57142857142858 372.5,198.28571428571428 376.5,203.64285714285714 380.5,207.5 384.5,211.21428571428572 388.5,214.71428571428572 392.5,220.92857142857142 396.5,227.78571428571428 400.5,234.64285714285714 404.5,238.42857142857142 408.5,243.21428571428572 412.5,248.71428571428572 416.5,259.7857142857143 420.5,264.92857142857144 424.5,269.7142857142857 428.5,277.64285714285717 432.5,282.7142857142857 436.5,289.85714285714283 440.5,295.92857142857144 444.5,299.7142857142857 448.5,303.2142857142857 452.5,304.7857142857143 456.5,308.2142857142857 460.5,309.35714285714283 464.5,308.42857142857144 468.5,306.7857142857143 472.5,301.2142857142857 476.5,295.5 480.5,287.2857142857143 484.5,276.07142857142856 488.5,269.64285714285717 492.5,259.57142857142856 496.5,249.85714285714286 500.5,238.07142857142858 504.5,225.57142857142858 508.5,213.5 512.5,199.28571428571428 516.5,197.14285714285714 520.5,195.28571428571428 524.5,194.21428571428572 528.5,195.21428571428572 532.5,197.92857142857142 536.5,204.0 540.5,210.35714285714286 544.5,214.64285714285714 548.5,216.35714285714286 552.5,219.28571428571428 556.5,226.57142857142858 560.5,232.14285714285714 564.5,239.78571428571428 568.5,247.92857142857142 572.5,247.5 576.5,247.64285714285714 580.5,246.64285714285714 584.5,246.92857142857142 588.5,245.07142857142858 592.5,243.07142857142858 596.5,240.57142857142858 600.5,237.92857142857142 604.5,241.57142857142858 608.5,245.21428571428572 612.5,246.07142857142858 616.5,249.0 620.5,251.21428571428572 624.5,253.64285714285714 628.5,258.57142857142856 632.5,264.42857142857144 636.5,271.92857142857144 640.5,276.0 644.5,279.14285714285717 648.5,283.35714285714283 652.5,285.92857142857144 656.5,286.85714285714283 660.5,287.42857142857144 664.5,286.92857142857144 668.5,282.0 672.5,279.2857142857143 676.5,281.0 680.5,284.57142857142856 684.5,284.57142857142856 688.5,284.42857142857144 692.5,283.07142857142856 696.5,280.07142857142856 700.5,281.7142857142857 704.5,281.2142857142857 708.5,284.57142857142856 712.5,289.7857142857143 716.5,292.2857142857143 720.5,292.92857142857144 724.5,294.7142857142857 728.5,290.35714285714283 732.5,280.64285714285717 736.5,268.85714285714283 740.5,261.2142857142857 744.5,257.2857142857143 748.5,254.21428571428572 752.5,252.35714285714286 756.5,246.57142857142858 760.5,241.85714285714286 764.5,235.21428571428572 768.5,227.85714285714286 772.5,222.0 776.5,217.35714285714286 780.5,216.71428571428572 784.5,220.35714285714286 788.5,224.0 792.5,227.35714285714286 796.5,230.35714285714286 800.5,231.07142857142858 804.5,230.0 808.5,229.64285714285714 812.5,235.28571428571428 816.5,237.28571428571428 820.5,240.5 824.5,240.07142857142858 828.5,238.71428571428572 832.5,238.14285714285714 836.5,242.64285714285714 840.5,246.28571428571428 844.5,248.57142857142858 848.5,253.0 852.5,255.14285714285714 856.5,254.92857142857142 860.5,252.35714285714286 864.5,247.28571428571428 868.5,241.07142857142858 872.5,236.42857142857142 876.5,226.28571428571428 880.5,221.14285714285714 884.5,214.07142857142858 888.5,205.85714285714286 892.5,191.78571428571428 896.5,181.5 900.5,175.07142857142858 904.5,166.28571428571428 908.5,157.07142857142858 912.5,149.28571428571428 916.5,146.14285714285714 920.5,146.35714285714286 924.5,143.78571428571428" fill="none" stroke="#ff0000" stroke-width="1" shape-rendering="crispEdges"/><polyline points="4.5,338.0 13.5,315.5 30.3,272.8 34.0,267.2 37.8,262.2 41.5,260.4 47.7,261.6 52.7,265.3 63.9,266.0 71.3,263.5 77.5,263.7 84.5,263.92857142857144 88.5,266.07142857142856 92.5,270.1190476190476 96.5,272.45238095238096 100.5,277.1190476190476 104.5,283.5952380952381 108.5,290.73809523809524 112.5,298.45238095238096 116.5,302.1190476190476 120.5,306.1190476190476 124.5,308.9761904761905 128.5,312.26190476190476 132.5,313.73809523809524 136.5,313.3095238095238 140.5,312.1190476190476 144.5,310.8333333333333 148.5,309.5952380952381 152.5,307.9761904761905 156.5,310.35714285714283 160.5,311.07142857142856 164.5,313.64285714285717 168.5,315.6904761904762 172.5,316.45238095238096 176.5,315.1190476190476 180.5,313.9761904761905 184.5,311.07142857142856 188.5,308.5 192.5,305.8333333333333 196.5,302.8333333333333 200.5,297.7857142857143 204.5,294.7857142857143 208.5,292.92857142857144 212.5,288.8333333333333 216.5,288.73809523809524 220.5,288.7857142857143 224.5,291.26190476190476 228.5,295.1190476190476 232.5,298.1666666666667 236.5,301.3095238095238 240.5,299.5952380952381 244.5,297.0238095238095 248.5,295.6904761904762 252.5,294.5 256.5,294.26190476190476 260.5,292.92857142857144 264.5,291.92857142857144 268.5,290.9761904761905 272.5,285.07142857142856 276.5,277.64285714285717 280.5,270.5 284.5,266.8333333333333 288.5,262.1666666666667 292.5,256.3095238095238 296.5,253.73809523809524 300.5,249.97619047619048 304.5,246.45238095238096 308.5,242.11904761904762 312.5,235.88095238095238 316.5,227.92857142857142 320.5,221.02380952380952 324.5,216.92857142857142 328.5,214.02380952380952 332.5,210.5 336.5,206.35714285714286 340.5,202.64285714285714 344.5,200.26190476190476 348.5,197.73809523809524 352.5,194.5952380952381 356.5,194.54761904761904 360.5,195.21428571428572 364.5,198.26190476190476 368.5,199.54761904761904 372.5,199.78571428571428 376.5,200.92857142857142 380.5,201.07142857142858 384.5,201.83333333333334 388.5,204.02380952380952 392.5,207.02380952380952 396.5,212.11904761904762 400.5,218.92857142857142 404.5,223.88095238095238 408.5,227.97619047619048 412.5,232.4047619047619 416.5,237.5952380952381 420.5,242.73809523809524 424.5,247.26190476190476 428.5,254.78571428571428 432.5,259.3095238095238 436.5,265.73809523809524 440.5,271.5 444.5,278.54761904761904 448.5,283.3095238095238 452.5,287.5952380952381 456.5,292.2142857142857 460.5,294.35714285714283 464.5,295.26190476190476 468.5,296.1190476190476 472.5,295.26190476190476 476.5,292.45238095238096 480.5,286.92857142857144 484.5,282.4047619047619 488.5,280.1190476190476 492.5,276.64285714285717 496.5,272.26190476190476 500.5,264.07142857142856 504.5,257.07142857142856 508.5,250.11904761904762 512.5,239.97619047619048 516.5,237.3095238095238 520.5,232.21428571428572 524.5,228.3095238095238 528.5,225.5952380952381 532.5,222.26190476190476 536.5,219.73809523809524 540.5,217.16666666666666 544.5,216.97619047619048 548.5,215.26190476190476 552.5,213.92857142857142 556.5,214.3095238095238 560.5,214.83333333333334 564.5,218.45238095238096 568.5,221.21428571428572 572.5,222.54761904761904 576.5,224.26190476190476 580.5,226.16666666666666 584.5,231.5 588.5,235.26190476190476 592.5,239.45238095238096 596.5,244.6904761904762 600.5,244.16666666666666 604.5,246.11904761904762 608.5,247.92857142857142 612.5,248.21428571428572 616.5,248.88095238095238 620.5,249.92857142857142 624.5,250.07142857142858 628.5,251.83333333333334 632.5,256.3095238095238 636.5,261.26190476190476 640.5,264.45238095238096 644.5,266.5952380952381 648.5,268.5 652.5,270.0238095238095 656.5,270.4047619047619 660.5,272.64285714285717 664.5,274.7857142857143 668.5,271.5952380952381 672.5,271.6904761904762 676.5,275.2142857142857 680.5,279.4047619047619 684.5,282.92857142857144 688.5,284.8809523809524 692.5,286.5 696.5,287.1190476190476 700.5,288.4047619047619 704.5,288.5 708.5,290.64285714285717 712.5,291.2142857142857 716.5,291.2142857142857 720.5,288.7857142857143 724.5,284.07142857142856 728.5,279.1666666666667 732.5,273.4047619047619 736.5,268.0238095238095 740.5,265.8333333333333 744.5,264.7857142857143 748.5,264.6904761904762 752.5,267.35714285714283 756.5,266.5952380952381 760.5,262.4047619047619 764.5,257.73809523809524 768.5,253.4047619047619 772.5,249.5952380952381 776.5,244.97619047619048 780.5,241.83333333333334 784.5,238.26190476190476 788.5,235.26190476190476 792.5,229.88095238095238 796.5,226.21428571428572 800.5,223.97619047619048 804.5,222.73809523809524 808.5,223.97619047619048 812.5,229.88095238095238 816.5,233.5 820.5,238.83333333333334 824.5,239.3095238095238 828.5,237.21428571428572 832.5,234.26190476190476 836.5,235.35714285714286 840.5,238.07142857142858 844.5,239.73809523809524 848.5,241.73809523809524 852.5,244.4047619047619 856.5,245.92857142857142 860.5,246.07142857142858 864.5,244.35714285714286 868.5,243.6904761904762 872.5,241.78571428571428 876.5,238.11904761904762 880.5,233.16666666666666 884.5,225.88095238095238 888.5,218.16666666666666 892.5,210.11904761904762 896.5,202.21428571428572 900.5,198.26190476190476 904.5,192.26190476190476 908.5,189.07142857142858 912.5,186.3095238095238 916.5,184.73809523809524 920.5,180.16666666666666 924.5,175.35714285714286" fill="none" stroke="#0000ff" stroke-width="1" shape-rendering="crispEdges"/></g><rect x="3" y="108" width="6" height="6" fill="#ff0000" /><rect x="5" y="110" width="2" height="2" fill="#ffffff" /><rect x="1160" y="108" width="6" height="6" fill="#ff0000" /><rect x="1162" y="110" width="2" height="2" fill="#ffffff" /><rect x="3" y="174" width="6" height="6" fill="#00ff00" /><rect x="5" y="176" width="2" height="2" fill="#ffffff" /><rect x="1160" y="174" width="6" height="6" fill="#00ff00" /><rect x="1162" y="176" width="2" height="2" fill="#ffffff" /><rect x="3" y="223" width="6" height="6" fill="#0000ff" /><rect x="5" y="225" width="2" height="2" fill="#ffffff" /><rect x="1160" y="223" width="6" height="6" fill="#0000ff" /><rect x="1162" y="225" width="2" height="2" fill="#ffffff" /><rect x="3" y="272" width="6" height="6" fill="#0000ff" /><rect x="5" y="274" width="2" height="2" fill="#ffffff" /><rect x="1160" y="272" width="6" height="6" fill="#0000ff" /><rect x="1162" y="274" width="2" height="2" fill="#ffffff" /><g clip-path="url(#cMacd)"><rect x="3" y="426" width="3" height="39" fill="#c0c0c0"/><rect x="7" y="424" width="3" height="41" fill="#c0c0c0"/><rect x="11" y="426" width="3" height="39" fill="#c0c0c0"/><rect x="15" y="428" width="3" height="37" fill="#c0c0c0"/><rect x="19" y="429" width="3" height="36" fill="#c0c0c0"/><rect x="23" y="429" width="3" height="36" fill="#c0c0c0"/><rect x="27" y="429" width="3" height="36" fill="#c0c0c0"/><rect x="31" y="435" width="3" height="30" fill="#c0c0c0"/><rect x="35" y="441" width="3" height="24" fill="#c0c0c0"/><rect x="39" y="446" width="3" height="19" fill="#c0c0c0"/><rect x="43" y="450" width="3" height="15" fill="#c0c0c0"/><rect x="47" y="451" width="3" height="14" fill="#c0c0c0"/><rect x="51" y="454" width="3" height="11" fill="#c0c0c0"/><rect x="55" y="455" width="3" height="10" fill="#c0c0c0"/><rect x="59" y="454" width="3" height="11" fill="#c0c0c0"/><rect x="63" y="455" width="3" height="10" fill="#c0c0c0"/><rect x="67" y="455" width="3" height="10" fill="#c0c0c0"/><rect x="71" y="454" width="3" height="11" fill="#c0c0c0"/><rect x="75" y="456" width="3" height="9" fill="#c0c0c0"/><rect x="79" y="456" width="3" height="9" fill="#c0c0c0"/><rect x="83" y="456" width="3" height="9" fill="#c0c0c0"/><rect x="87" y="456" width="3" height="9" fill="#c0c0c0"/><rect x="91" y="459" width="3" height="6" fill="#c0c0c0"/><rect x="95" y="461" width="3" height="4" fill="#c0c0c0"/><rect x="99" y="465" width="3" height="1" fill="#c0c0c0"/><rect x="103" y="465" width="3" height="8" fill="#c0c0c0"/><rect x="107" y="465" width="3" height="12" fill="#c0c0c0"/><rect x="111" y="465" width="3" height="16" fill="#c0c0c0"/><rect x="115" y="465" width="3" height="19" fill="#c0c0c0"/><rect x="119" y="465" width="3" height="22" fill="#c0c0c0"/><rect x="123" y="465" width="3" height="22" fill="#c0c0c0"/><rect x="127" y="465" width="3" height="22" fill="#c0c0c0"/><rect x="131" y="465" width="3" height="17" fill="#c0c0c0"/><rect x="135" y="465" width="3" height="13" fill="#c0c0c0"/><rect x="139" y="465" width="3" height="6" fill="#c0c0c0"/><rect x="143" y="464" width="3" height="1" fill="#c0c0c0"/><rect x="147" y="460" width="3" height="5" fill="#c0c0c0"/><rect x="151" y="456" width="3" height="9" fill="#c0c0c0"/><rect x="155" y="457" width="3" height="8" fill="#c0c0c0"/><rect x="159" y="458" width="3" height="7" fill="#c0c0c0"/><rect x="163" y="461" width="3" height="4" fill="#c0c0c0"/><rect x="167" y="461" width="3" height="4" fill="#c0c0c0"/><rect x="171" y="460" width="3" height="5" fill="#c0c0c0"/><rect x="175" y="459" width="3" height="6" fill="#c0c0c0"/><rect x="179" y="459" width="3" height="6" fill="#c0c0c0"/><rect x="183" y="459" width="3" height="6" fill="#c0c0c0"/><rect x="187" y="462" width="3" height="3" fill="#c0c0c0"/><rect x="191" y="464" width="3" height="1" fill="#c0c0c0"/><rect x="195" y="465" width="3" height="1" fill="#c0c0c0"/><rect x="199" y="463" width="3" height="2" fill="#c0c0c0"/><rect x="203" y="465" width="3" height="1" fill="#c0c0c0"/><rect x="207" y="465" width="3" height="3" fill="#c0c0c0"/><rect x="211" y="465" width="3" height="1" fill="#c0c0c0"/><rect x="215" y="465" width="3" height="1" fill="#c0c0c0"/><rect x="219" y="465" width="3" height="1" fill="#c0c0c0"/><rect x="223" y="465" width="3" height="1" fill="#c0c0c0"/><rect x="227" y="465" width="3" height="2" fill="#c0c0c0"/><rect x="231" y="465" width="3" height="2" fill="#c0c0c0"/><rect x="235" y="465" width="3" height="2" fill="#c0c0c0"/><rect x="239" y="464" width="3" height="1" fill="#c0c0c0"/><rect x="243" y="460" width="3" height="5" fill="#c0c0c0"/><rect x="247" y="460" width="3" height="5" fill="#c0c0c0"/><rect x="251" y="460" width="3" height="5" fill="#c0c0c0"/><rect x="255" y="459" width="3" height="6" fill="#c0c0c0"/><rect x="259" y="456" width="3" height="9" fill="#c0c0c0"/><rect x="263" y="456" width="3" height="9" fill="#c0c0c0"/><rect x="267" y="455" width="3" height="10" fill="#c0c0c0"/><rect x="271" y="451" width="3" height="14" fill="#c0c0c0"/><rect x="275" y="444" width="3" height="21" fill="#c0c0c0"/><rect x="279" y="440" width="3" height="25" fill="#c0c0c0"/><rect x="283" y="439" width="3" height="26" fill="#c0c0c0"/><rect x="287" y="441" width="3" height="24" fill="#c0c0c0"/><rect x="291" y="441" width="3" height="24" fill="#c0c0c0"/><rect x="295" y="443" width="3" height="22" fill="#c0c0c0"/><rect x="299" y="444" width="3" height="21" fill="#c0c0c0"/><rect x="303" y="446" width="3" height="19" fill="#c0c0c0"/><rect x="307" y="446" width="3" height="19" fill="#c0c0c0"/><rect x="311" y="445" width="3" height="20" fill="#c0c0c0"/><rect x="315" y="441" width="3" height="24" fill="#c0c0c0"/><rect x="319" y="440" width="3" height="25" fill="#c0c0c0"/><rect x="323" y="440" width="3" height="25" fill="#c0c0c0"/><rect x="327" y="441" width="3" height="24" fill="#c0c0c0"/><rect x="331" y="445" width="3" height="20" fill="#c0c0c0"/><rect x="335" y="446" width="3" height="19" fill="#c0c0c0"/><rect x="339" y="447" width="3" height="18" fill="#c0c0c0"/><rect x="343" y="448" width="3" height="17" fill="#c0c0c0"/><rect x="347" y="450" width="3" height="15" fill="#c0c0c0"/><rect x="351" y="451" width="3" height="14" fill="#c0c0c0"/><rect x="355" y="452" width="3" height="13" fill="#c0c0c0"/><rect x="359" y="452" width="3" height="13" fill="#c0c0c0"/><rect x="363" y="455" width="3" height="10" fill="#c0c0c0"/><rect x="367" y="457" width="3" height="8" fill="#c0c0c0"/><rect x="371" y="461" width="3" height="4" fill="#c0c0c0"/><rect x="375" y="463" width="3" height="2" fill="#c0c0c0"/><rect x="379" y="464" width="3" height="1" fill="#c0c0c0"/><rect x="383" y="465" width="3" height="1" fill="#c0c0c0"/><rect x="387" y="465" width="3" height="4" fill="#c0c0c0"/><rect x="391" y="465" width="3" height="8" fill="#c0c0c0"/><rect x="395" y="465" width="3" height="11" fill="#c0c0c0"/><rect x="399" y="465" width="3" height="14" fill="#c0c0c0"/><rect x="403" y="465" width="3" height="14" fill="#c0c0c0"/><rect x="407" y="465" width="3" height="13" fill="#c0c0c0"/><rect x="411" y="465" width="3" height="14" fill="#c0c0c0"/><rect x="415" y="465" width="3" height="18" fill="#c0c0c0"/><rect x="419" y="465" width="3" height="19" fill="#c0c0c0"/><rect x="423" y="465" width="3" height="19" fill="#c0c0c0"/><rect x="427" y="465" width="3" height="23" fill="#c0c0c0"/><rect x="431" y="465" width="3" height="22" fill="#c0c0c0"/><rect x="435" y="465" width="3" height="24" fill="#c0c0c0"/><rect x="439" y="465" width="3" height="24" fill="#c0c0c0"/><rect x="443" y="465" width="3" height="24" fill="#c0c0c0"/><rect x="447" y="465" width="3" height="24" fill="#c0c0c0"/><rect x="451" y="465" width="3" height="22" fill="#c0c0c0"/><rect x="455" y="465" width="3" height="23" fill="#c0c0c0"/><rect x="459" y="465" width="3" height="18" fill="#c0c0c0"/><rect x="463" y="465" width="3" height="13" fill="#c0c0c0"/><rect x="467" y="465" width="3" height="9" fill="#c0c0c0"/><rect x="471" y="465" width="3" height="5" fill="#c0c0c0"/><rect x="475" y="465" width="3" height="1" fill="#c0c0c0"/><rect x="479" y="458" width="3" height="7" fill="#c0c0c0"/><rect x="483" y="454" width="3" height="11" fill="#c0c0c0"/><rect x="487" y="452" width="3" height="13" fill="#c0c0c0"/><rect x="491" y="449" width="3" height="16" fill="#c0c0c0"/><rect x="495" y="447" width="3" height="18" fill="#c0c0c0"/><rect x="499" y="443" width="3" height="22" fill="#c0c0c0"/><rect x="503" y="440" width="3" height="25" fill="#c0c0c0"/><rect x="507" y="437" width="3" height="28" fill="#c0c0c0"/><rect x="511" y="435" width="3" height="30" fill="#c0c0c0"/><rect x="515" y="441" width="3" height="24" fill="#c0c0c0"/><rect x="519" y="445" width="3" height="20" fill="#c0c0c0"/><rect x="523" y="449" width="3" height="16" fill="#c0c0c0"/><rect x="527" y="455" width="3" height="10" fill="#c0c0c0"/><rect x="531" y="458" width="3" height="7" fill="#c0c0c0"/><rect x="535" y="462" width="3" height="3" fill="#c0c0c0"/><rect x="539" y="465" width="3" height="1" fill="#c0c0c0"/><rect x="543" y="465" width="3" height="3" fill="#c0c0c0"/><rect x="547" y="465" width="3" height="1" fill="#c0c0c0"/><rect x="551" y="465" width="3" height="1" fill="#c0c0c0"/><rect x="555" y="465" width="3" height="2" fill="#c0c0c0"/><rect x="559" y="465" width="3" height="1" fill="#c0c0c0"/><rect x="563" y="465" width="3" height="2" fill="#c0c0c0"/><rect x="567" y="465" width="3" height="2" fill="#c0c0c0"/><rect x="571" y="465" width="3" height="2" fill="#c0c0c0"/><rect x="575" y="465" width="3" height="1" fill="#c0c0c0"/><rect x="579" y="465" width="3" height="1" fill="#c0c0c0"/><rect x="583" y="465" width="3" height="2" fill="#c0c0c0"/><rect x="587" y="465" width="3" height="1" fill="#c0c0c0"/><rect x="591" y="465" width="3" height="1" fill="#c0c0c0"/><rect x="595" y="465" width="3" height="1" fill="#c0c0c0"/><rect x="599" y="465" width="3" height="1" fill="#c0c0c0"/><rect x="603" y="465" width="3" height="3" fill="#c0c0c0"/><rect x="607" y="465" width="3" height="5" fill="#c0c0c0"/><rect x="611" y="465" width="3" height="6" fill="#c0c0c0"/><rect x="615" y="465" width="3" height="7" fill="#c0c0c0"/><rect x="619" y="465" width="3" height="8" fill="#c0c0c0"/><rect x="623" y="465" width="3" height="10" fill="#c0c0c0"/><rect x="627" y="465" width="3" height="12" fill="#c0c0c0"/><rect x="631" y="465" width="3" height="14" fill="#c0c0c0"/><rect x="635" y="465" width="3" height="17" fill="#c0c0c0"/><rect x="639" y="465" width="3" height="19" fill="#c0c0c0"/><rect x="643" y="465" width="3" height="16" fill="#c0c0c0"/><rect x="647" y="465" width="3" height="15" fill="#c0c0c0"/><rect x="651" y="465" width="3" height="14" fill="#c0c0c0"/><rect x="655" y="465" width="3" height="10" fill="#c0c0c0"/><rect x="659" y="465" width="3" height="8" fill="#c0c0c0"/><rect x="663" y="465" width="3" height="7" fill="#c0c0c0"/><rect x="667" y="465" width="3" height="1" fill="#c0c0c0"/><rect x="671" y="463" width="3" height="2" fill="#c0c0c0"/><rect x="675" y="465" width="3" height="2" fill="#c0c0c0"/><rect x="679" y="465" width="3" height="6" fill="#c0c0c0"/><rect x="683" y="465" width="3" height="8" fill="#c0c0c0"/><rect x="687" y="465" width="3" height="9" fill="#c0c0c0"/><rect x="691" y="465" width="3" height="10" fill="#c0c0c0"/><rect x="695" y="465" width="3" height="9" fill="#c0c0c0"/><rect x="699" y="465" width="3" height="9" fill="#c0c0c0"/><rect x="703" y="465" width="3" height="8" fill="#c0c0c0"/><rect x="707" y="465" width="3" height="10" fill="#c0c0c0"/><rect x="711" y="465" width="3" height="11" fill="#c0c0c0"/><rect x="715" y="465" width="3" height="11" fill="#c0c0c0"/><rect x="719" y="465" width="3" height="8" fill="#c0c0c0"/><rect x="723" y="465" width="3" height="3" fill="#c0c0c0"/><rect x="727" y="459" width="3" height="6" fill="#c0c0c0"/><rect x="731" y="453" width="3" height="12" fill="#c0c0c0"/><rect x="735" y="447" width="3" height="18" fill="#c0c0c0"/><rect x="739" y="446" width="3" height="19" fill="#c0c0c0"/><rect x="743" y="449" width="3" height="16" fill="#c0c0c0"/><rect x="747" y="452" width="3" height="13" fill="#c0c0c0"/><rect x="751" y="454" width="3" height="11" fill="#c0c0c0"/><rect x="755" y="453" width="3" height="12" fill="#c0c0c0"/><rect x="759" y="452" width="3" height="13" fill="#c0c0c0"/><rect x="763" y="453" width="3" height="12" fill="#c0c0c0"/><rect x="767" y="453" width="3" height="12" fill="#c0c0c0"/><rect x="771" y="453" width="3" height="12" fill="#c0c0c0"/><rect x="775" y="452" width="3" height="13" fill="#c0c0c0"/><rect x="779" y="453" width="3" height="12" fill="#c0c0c0"/><rect x="783" y="453" width="3" height="12" fill="#c0c0c0"/><rect x="787" y="454" width="3" height="11" fill="#c0c0c0"/><rect x="791" y="454" width="3" height="11" fill="#c0c0c0"/><rect x="795" y="456" width="3" height="9" fill="#c0c0c0"/><rect x="799" y="459" width="3" height="6" fill="#c0c0c0"/><rect x="803" y="461" width="3" height="4" fill="#c0c0c0"/><rect x="807" y="462" width="3" height="3" fill="#c0c0c0"/><rect x="811" y="465" width="3" height="2" fill="#c0c0c0"/><rect x="815" y="465" width="3" height="2" fill="#c0c0c0"/><rect x="819" y="465" width="3" height="4" fill="#c0c0c0"/><rect x="823" y="465" width="3" height="1" fill="#c0c0c0"/><rect x="827" y="463" width="3" height="2" fill="#c0c0c0"/><rect x="831" y="460" width="3" height="5" fill="#c0c0c0"/><rect x="835" y="464" width="3" height="1" fill="#c0c0c0"/><rect x="839" y="465" width="3" height="1" fill="#c0c0c0"/><rect x="843" y="465" width="3" height="2" fill="#c0c0c0"/><rect x="847" y="465" width="3" height="4" fill="#c0c0c0"/><rect x="851" y="465" width="3" height="5" fill="#c0c0c0"/><rect x="855" y="465" width="3" height="5" fill="#c0c0c0"/><rect x="859" y="465" width="3" height="2" fill="#c0c0c0"/><rect x="863" y="462" width="3" height="3" fill="#c0c0c0"/><rect x="867" y="460" width="3" height="5" fill="#c0c0c0"/><rect x="871" y="456" width="3" height="9" fill="#c0c0c0"/><rect x="875" y="451" width="3" height="14" fill="#c0c0c0"/><rect x="879" y="446" width="3" height="19" fill="#c0c0c0"/><rect x="883" y="441" width="3" height="24" fill="#c0c0c0"/><rect x="887" y="436" width="3" height="29" fill="#c0c0c0"/><rect x="891" y="432" width="3" height="33" fill="#c0c0c0"/><rect x="895" y="432" width="3" height="33" fill="#c0c0c0"/><rect x="899" y="435" width="3" height="30" fill="#c0c0c0"/><rect x="903" y="437" width="3" height="28" fill="#c0c0c0"/><rect x="907" y="439" width="3" height="26" fill="#c0c0c0"/><rect x="911" y="440" width="3" height="25" fill="#c0c0c0"/><rect x="915" y="443" width="3" height="22" fill="#c0c0c0"/><rect x="919" y="447" width="3" height="18" fill="#c0c0c0"/><rect x="923" y="449" width="3" height="16" fill="#c0c0c0"/><polyline points="4.5,431.12769230769226 8.5,430.26119241297215 12.5,429.6473728344181 16.5,429.19238911018795 20.5,428.8770204653745 24.5,428.55635584225604 28.5,428.2051007206955 32.5,428.60541726016766 36.5,429.68015913743847 40.5,431.97540813831466 44.5,434.855464223286 48.5,437.5516416374067 52.5,440.4497955583616 56.5,443.28879061157016 60.5,446.0891644642315 64.5,448.97967637601687 68.5,451.1543356454477 72.5,452.5349351528549 76.5,453.54221303231446 80.5,454.20544194694656 84.5,454.76791752767053 88.5,454.99653966297063 92.5,455.4419690443648 96.5,456.24457702095833 100.5,457.5423359818795 104.5,459.50984801397925 108.5,462.09190193584664 112.5,464.8855200722232 116.5,467.981400093895 120.5,471.4551731615891 124.5,474.9529560759205 128.5,478.1571347438168 132.5,480.4694944069367 136.5,481.7200986981071 140.5,481.5073354474088 144.5,480.0623043864449 148.5,477.7324194233225 152.5,474.59954694859204 156.5,471.2820873633393 160.5,468.0341729169235 164.5,465.0781664711364 168.5,462.77734884294375 172.5,460.8717823159698 176.5,459.5541232950622 180.5,458.9525809834359 184.5,458.83879083533367 188.5,459.52528767028485 192.5,460.2537921910072 196.5,460.9908740465554 200.5,461.2372812147899 204.5,461.7056882963313 208.5,462.51904782407644 212.5,463.2967966437241 216.5,464.05381472540887 220.5,464.76993116536437 224.5,465.18130299446 228.5,465.5095530415074 232.5,465.75290582008796 236.5,466.15142712796427 240.5,465.91344434537444 244.5,465.019161837566 248.5,464.40647421190954 252.5,463.7648695703218 256.5,463.099904568891 260.5,462.087530138573 264.5,460.8786363598189 268.5,459.5936814933629 272.5,457.83089712228343 276.5,455.6978009926072 280.5,453.4752422181701 284.5,451.09569156602845 288.5,449.03710718662194 292.5,447.0690765856919 296.5,445.6353175330398 300.5,444.3959970766303 304.5,443.33917048567025 308.5,442.8702478714425 312.5,442.9634733767037 316.5,443.14334819612395 320.5,443.2046856247793 324.5,443.06022450916765 328.5,442.9966608565046 332.5,443.1254637701225 336.5,443.2431871517429 340.5,443.37493734716617 344.5,443.54022472060836 348.5,444.09063808128775 352.5,445.18502147969815 356.5,446.60494119261074 360.5,447.8949789542054 364.5,449.44532272827985 368.5,450.87732237046896 372.5,452.5449845802967 376.5,454.2740659522007 380.5,456.0796609908413 384.5,457.8123976857077 388.5,459.8290393826864 392.5,462.09322997349466 396.5,464.85423517552215 400.5,467.5080720551729 404.5,469.8472941957151 408.5,471.83320238549106 412.5,473.66395983339703 416.5,475.7771616322277 420.5,477.81501506251794 424.5,479.44995899230213 428.5,481.1434005308079 432.5,482.3663637099186 436.5,483.4873525032935 440.5,484.6279004009757 444.5,485.7627583744518 448.5,486.81609508020085 452.5,487.2805140457207 456.5,487.6870696083199 460.5,487.62680926338714 464.5,486.5361427962952 468.5,485.03539030585284 472.5,482.9819422693829 476.5,480.3505292234947 480.5,476.9515807887605 484.5,473.0782008503182 488.5,469.13377838173443 492.5,464.84196139319965 496.5,460.7357107151138 500.5,456.81362531507824 504.5,453.0163945849641 508.5,449.3362088140471 512.5,445.97403954779514 516.5,444.1178232455253 520.5,443.1660345420215 524.5,442.8695590594668 528.5,443.48268353905115 532.5,444.7854377641897 536.5,446.8781922864885 540.5,449.76645165461304 544.5,453.22100623259223 548.5,456.69508827743397 552.5,459.3352314353753 556.5,461.7408300375379 560.5,463.5905530176883 564.5,464.95963250939263 568.5,465.98463529355206 572.5,466.60813668721454 576.5,466.6454277414531 580.5,466.26309378114024 584.5,466.3820309955562 588.5,466.49954734151953 592.5,466.3741218957045 596.5,466.3964718904377 600.5,466.2617910575504 604.5,466.2701534922197 608.5,466.54280149142784 612.5,467.0915505381091 616.5,467.8663971427643 620.5,468.56104987798386 624.5,469.4975925536079 628.5,470.78933615143444 632.5,472.24043829012084 636.5,474.04034656808824 640.5,475.8284859401123 644.5,477.090015662522 648.5,478.11697455653024 652.5,478.8682865323379 656.5,479.018307202027 660.5,478.89592885574336 664.5,478.31302143195694 668.5,476.84686686010497 672.5,474.78558097050745 676.5,472.91480318604914 680.5,471.8398756246289 684.5,471.05602591364385 688.5,470.5732919053231 692.5,470.620563230088 696.5,470.67371028505084 700.5,470.8751487827719 704.5,471.6393879078963 708.5,472.9400704729295 712.5,473.9808669981579 716.5,474.4935520100961 720.5,474.53051769259287 724.5,473.8095645663836 728.5,472.03005399341964 732.5,469.65790904059696 736.5,466.7202214026092 740.5,463.7336567252776 744.5,460.79093086797735 748.5,458.09244586458607 752.5,455.6481348691703 756.5,453.3426390184347 760.5,451.6130720855076 764.5,450.9316161366922 768.5,450.9348020271999 772.5,451.5625313440437 776.5,452.2876387276842 780.5,452.7280584112275 784.5,452.85223371684197 788.5,452.80738722686976 792.5,452.9111982421124 796.5,453.33070357965704 800.5,454.0007833980367 804.5,454.915660200426 808.5,455.95578938162384 812.5,457.53111091296006 816.5,459.09094208723786 820.5,460.85333413424365 824.5,462.20121795614574 828.5,463.2250167461084 832.5,463.72671355706984 836.5,464.2866011727388 840.5,464.90173201294436 844.5,465.40082461689065 848.5,465.6510064809486 852.5,466.05603945794985 856.5,466.18497948660865 860.5,466.29654577266365 864.5,466.16075569525447 868.5,466.06518840865067 872.5,465.19257628474793 876.5,463.43252541609127 880.5,461.1575715801161 884.5,458.0642319816636 888.5,454.2366976990785 892.5,449.9577214048006 896.5,446.0792499398641 900.5,443.1199052505469 904.5,440.625811627912 908.5,438.6529146596113 912.5,437.49562877776253 916.5,437.1508691127385 920.5,437.8073669843121 924.5,439.28894230323397" fill="none" stroke="#ff0000" stroke-width="1" shape-rendering="crispEdges"/></g><line x1="5" y1="517.5" x2="1166" y2="517.5" stroke="#c0c0c0" stroke-width="1" stroke-dasharray="3,3"/><line x1="5" y1="546.5" x2="1166" y2="546.5" stroke="#c0c0c0" stroke-width="1" stroke-dasharray="3,3"/><g clip-path="url(#cRsi)"><polyline points="4.5,515.8602418207681 8.5,515.3452295338661 12.5,523.3124813291577 16.5,522.261458420282 20.5,521.8713888043163 24.5,519.9538357520796 28.5,519.1223575959812 32.5,532.4965634848718 36.5,533.1745788213085 40.5,533.1745788213085 44.5,531.8512667219909 48.5,528.0396040534769 52.5,532.7298183521755 56.5,529.5458840693495 60.5,527.8902630667332 64.5,529.2615444241643 68.5,528.897681885379 72.5,526.5005638989331 76.5,531.2545042403217 80.5,529.3799772848562 84.5,528.2705420699031 88.5,529.0443553004499 92.5,533.7856596974477 96.5,534.9678144407276 100.5,539.4583369788013 104.5,542.7707986215693 108.5,541.7647064271827 112.5,542.0663764901271 116.5,542.6933455404491 120.5,544.0456856381193 124.5,539.448413939847 128.5,539.2625565312657 132.5,528.8131394126481 136.5,528.3247634062908 140.5,523.5678341574946 144.5,521.9395203139696 148.5,523.7544500953684 152.5,522.6203821530008 156.5,531.8551152097763 160.5,531.6108660975609 164.5,534.5564846891054 168.5,531.9450232887452 172.5,529.2726619885551 176.5,527.9908978154767 180.5,529.8591385543956 184.5,530.0061569270154 188.5,535.5374502552129 192.5,534.3639053721948 196.5,533.7602227177081 200.5,528.6383021461221 204.5,535.7717034152871 208.5,535.7717034152871 212.5,529.6949579079552 216.5,531.5692956522157 220.5,531.4447111659653 224.5,532.515513095218 228.5,534.1195588735993 232.5,533.2140379693769 236.5,531.8382441044089 240.5,526.6744742381806 244.5,524.3545819829 248.5,531.7304848006381 252.5,529.6450533494346 256.5,529.3979643215342 260.5,525.4360654622104 264.5,528.4078869280978 268.5,528.7035045108556 272.5,522.0769998723629 276.5,518.8947162418899 280.5,519.2138761522637 284.5,524.6759749184952 288.5,529.2270475566615 292.5,526.7374530470022 296.5,529.3541233297385 300.5,528.3018919568613 304.5,528.8335602311556 308.5,527.7999908355051 312.5,524.7631470883349 316.5,520.9118036437901 320.5,522.9176797377821 324.5,526.0299130364966 328.5,526.7602783027701 332.5,531.7870503231568 336.5,528.3393566743654 340.5,529.2762983510302 344.5,528.5651886101498 348.5,530.9774401764064 352.5,529.5459404801167 356.5,529.8514655255561 360.5,526.5758013556646 364.5,533.9549433838588 368.5,533.8153548216338 372.5,535.4910252686437 376.5,534.5525014409774 380.5,534.5525014409774 384.5,535.0077370105616 388.5,539.7130491388381 392.5,540.7011407897451 396.5,542.6130640615646 400.5,541.3354232314732 404.5,536.190263529831 408.5,536.6336849905787 412.5,538.4114685271525 416.5,544.7078731874087 420.5,538.9639379090836 424.5,537.9323830116178 428.5,543.8831856268363 432.5,536.8688146789716 436.5,539.6941148736091 440.5,537.9990732236201 444.5,538.2070694137493 448.5,538.6454883223233 452.5,536.8684331303418 456.5,539.2230121262097 460.5,530.9700278462867 464.5,528.0131830103254 468.5,528.2910863994712 472.5,528.0508334997876 476.5,524.3047032846573 480.5,520.4689263451558 484.5,522.8706658261982 488.5,526.0674652279611 492.5,523.8353092177783 496.5,523.1441943559602 500.5,520.6037305305066 504.5,520.0641141756776 508.5,519.5994120774241 512.5,518.6564616330511 516.5,534.5730903550412 520.5,532.0840915814128 524.5,533.5017539862554 528.5,536.3027472068541 532.5,535.1623020602145 536.5,535.8171384616526 540.5,537.8677050215103 544.5,536.6938923359342 548.5,529.3767474822884 552.5,530.6252316813343 556.5,534.5842218914959 560.5,531.0542990853705 564.5,533.7556051931386 568.5,533.387647220571 572.5,532.2460768574354 576.5,530.4813708932396 580.5,530.0980991681239 584.5,535.8702118540672 588.5,530.9059544705426 592.5,531.4094518607045 596.5,532.9472194763534 600.5,531.6041231221174 604.5,535.4324482176336 608.5,536.6186665228541 612.5,535.8384195982094 616.5,535.6742498840134 620.5,537.5686071875198 624.5,537.5686071875198 628.5,540.9837408711139 632.5,540.7761497452025 636.5,543.2475522681634 640.5,542.5672440053892 644.5,532.6906747637362 648.5,535.4162356369498 652.5,533.6070906331636 656.5,528.7451618721376 660.5,532.4918469242053 664.5,531.7563337055544 668.5,523.6861195274753 672.5,528.0327224012646 676.5,536.4852934599701 680.5,538.768133961896 684.5,535.8997570353956 688.5,535.5425816963622 692.5,535.8529580210507 696.5,532.5900881192442 700.5,534.0867946355833 704.5,532.6745635378694 708.5,537.450838486431 712.5,536.4918916311424 716.5,534.7004911529378 720.5,530.7485982063317 724.5,525.4159424563784 728.5,520.8868932973741 732.5,521.0255409537166 736.5,520.788736050008 740.5,525.6589790273024 744.5,531.5102402527957 748.5,533.102120618426 752.5,532.0848570213412 756.5,527.710419876603 760.5,528.2048939862011 764.5,530.2039219964805 768.5,528.3422733946139 772.5,529.4059492571608 776.5,527.7962234581296 780.5,528.5269572975735 784.5,529.135667722227 788.5,529.2963769379901 792.5,528.2885504100294 796.5,533.0117772228693 800.5,535.4585508154464 804.5,533.7855164298093 808.5,533.9411886733506 812.5,539.7614638388028 816.5,532.2909434869588 820.5,536.3812081028897 824.5,528.192173357667 828.5,527.6825465012015 832.5,527.3616789044084 836.5,536.1590339594599 840.5,535.1969189119012 844.5,533.0452789566865 848.5,535.5031866648064 852.5,535.1171075815874 856.5,533.0371842557656 860.5,528.0916901684348 864.5,524.8097061535678 868.5,528.1600428593846 872.5,525.763098878622 876.5,522.0732011250494 880.5,522.3494391674036 884.5,519.8638420189596 888.5,518.5042485615658 892.5,518.076154780619 896.5,524.6947110681334 900.5,529.1395255193486 904.5,528.1504135152383 908.5,527.2460996418164 912.5,527.7866456789695 916.5,530.7173006477025 920.5,532.370970654085 924.5,530.7120682043503" fill="none" stroke="#1e90ff" stroke-width="1" shape-rendering="crispEdges"/></g><rect x="3" y="27" width="1164" height="1" fill="#000" /><rect x="3" y="418" width="1164" height="1" fill="#000" /><rect x="3" y="27" width="1" height="392" fill="#000" /><rect x="1166" y="27" width="1" height="392" fill="#000" /><rect x="3" y="420" width="1164" height="1" fill="#000" /><rect x="3" y="491" width="1164" height="1" fill="#000" /><rect x="3" y="420" width="1" height="72" fill="#000" /><rect x="1166" y="420" width="1" height="72" fill="#000" /><rect x="3" y="494" width="1164" height="1" fill="#000" /><rect x="3" y="568" width="1164" height="1" fill="#000" /><rect x="3" y="494" width="1" height="75" fill="#000" /><rect x="1166" y="494" width="1" height="75" fill="#000" /><rect x="1167" y="52" width="2" height="1" fill="#000" /><text x="1171.5" y="55.5" font-size="10" fill="#000" font-weight="normal" text-anchor="start" textLength="33" lengthAdjust="spacingAndGlyphs" stroke="#000" stroke-width="0.25" >0.94530</text><rect x="1167" y="85" width="2" height="1" fill="#000" /><text x="1171.5" y="88.5" font-size="10" fill="#000" font-weight="normal" text-anchor="start" textLength="33" lengthAdjust="spacingAndGlyphs" stroke="#000" stroke-width="0.25" >0.94130</text><rect x="1167" y="118" width="2" height="1" fill="#000" /><text x="1171.5" y="121.5" font-size="10" fill="#000" font-weight="normal" text-anchor="start" textLength="33" lengthAdjust="spacingAndGlyphs" stroke="#000" stroke-width="0.25" >0.93720</text><rect x="1167" y="151" width="2" height="1" fill="#000" /><text x="1171.5" y="154.5" font-size="10" fill="#000" font-weight="normal" text-anchor="start" textLength="33" lengthAdjust="spacingAndGlyphs" stroke="#000" stroke-width="0.25" >0.93320</text><rect x="1167" y="184" width="2" height="1" fill="#000" /><text x="1171.5" y="187.5" font-size="10" fill="#000" font-weight="normal" text-anchor="start" textLength="33" lengthAdjust="spacingAndGlyphs" stroke="#000" stroke-width="0.25" >0.92920</text><rect x="1167" y="217" width="2" height="1" fill="#000" /><text x="1171.5" y="220.5" font-size="10" fill="#000" font-weight="normal" text-anchor="start" textLength="33" lengthAdjust="spacingAndGlyphs" stroke="#000" stroke-width="0.25" >0.92510</text><rect x="1167" y="250" width="2" height="1" fill="#000" /><text x="1171.5" y="253.5" font-size="10" fill="#000" font-weight="normal" text-anchor="start" textLength="33" lengthAdjust="spacingAndGlyphs" stroke="#000" stroke-width="0.25" >0.92110</text><rect x="1167" y="283" width="2" height="1" fill="#000" /><text x="1171.5" y="286.5" font-size="10" fill="#000" font-weight="normal" text-anchor="start" textLength="33" lengthAdjust="spacingAndGlyphs" stroke="#000" stroke-width="0.25" >0.91700</text><rect x="1167" y="316" width="2" height="1" fill="#000" /><text x="1171.5" y="319.5" font-size="10" fill="#000" font-weight="normal" text-anchor="start" textLength="33" lengthAdjust="spacingAndGlyphs" stroke="#000" stroke-width="0.25" >0.91300</text><rect x="1167" y="349" width="2" height="1" fill="#000" /><text x="1171.5" y="352.5" font-size="10" fill="#000" font-weight="normal" text-anchor="start" textLength="33" lengthAdjust="spacingAndGlyphs" stroke="#000" stroke-width="0.25" >0.90900</text><rect x="1167" y="382" width="2" height="1" fill="#000" /><text x="1171.5" y="385.5" font-size="10" fill="#000" font-weight="normal" text-anchor="start" textLength="33" lengthAdjust="spacingAndGlyphs" stroke="#000" stroke-width="0.25" >0.90490</text><rect x="1167" y="414" width="2" height="1" fill="#000" /><text x="1171.5" y="417.5" font-size="10" fill="#000" font-weight="normal" text-anchor="start" textLength="33" lengthAdjust="spacingAndGlyphs" stroke="#000" stroke-width="0.25" >0.90090</text><rect x="1168" y="166" width="40" height="11" fill="#000000" /><text x="1171.5" y="175" font-size="10" fill="#ffffff" font-weight="normal" text-anchor="start" textLength="33" lengthAdjust="spacingAndGlyphs" stroke="#ffffff" stroke-width="0.15" >0.93072</text><rect x="1168" y="105" width="40" height="11" fill="#ff0000" /><text x="1171.5" y="113.5" font-size="10" fill="#ffffff" font-weight="normal" text-anchor="start" textLength="33" lengthAdjust="spacingAndGlyphs" stroke="#ffffff" stroke-width="0.15" >0.93807</text><rect x="1168" y="171" width="40" height="11" fill="#00ff00" /><text x="1171.5" y="179.5" font-size="10" fill="#ffffff" font-weight="normal" text-anchor="start" textLength="33" lengthAdjust="spacingAndGlyphs" stroke="#ffffff" stroke-width="0.15" >0.93006</text><rect x="1168" y="220" width="40" height="11" fill="#0000ff" /><text x="1171.5" y="228.5" font-size="10" fill="#ffffff" font-weight="normal" text-anchor="start" textLength="33" lengthAdjust="spacingAndGlyphs" stroke="#ffffff" stroke-width="0.15" >0.92403</text><rect x="1168" y="269" width="40" height="11" fill="#0000ff" /><text x="1171.5" y="277.5" font-size="10" fill="#ffffff" font-weight="normal" text-anchor="start" textLength="33" lengthAdjust="spacingAndGlyphs" stroke="#ffffff" stroke-width="0.15" >0.91800</text><rect x="1167" y="465" width="2" height="1" fill="#000" /><text x="1169.5" y="431.5" font-size="10" fill="#000" font-weight="normal" text-anchor="start" textLength="38" lengthAdjust="spacingAndGlyphs" stroke="#000" stroke-width="0.25" >0.005963</text><text x="1169.5" y="469" font-size="10" fill="#000" font-weight="normal" text-anchor="start" textLength="19" lengthAdjust="spacingAndGlyphs" stroke="#000" stroke-width="0.25" >0.00</text><text x="1169.5" y="489.5" font-size="10" fill="#000" font-weight="normal" text-anchor="start" textLength="43" lengthAdjust="spacingAndGlyphs" stroke="#000" stroke-width="0.25" >-0.003664</text><text x="8.5" y="433" font-size="10" fill="#000" font-weight="normal" text-anchor="start" textLength="147.5" lengthAdjust="spacingAndGlyphs" stroke="#000" stroke-width="0.2" >MACD(12,26,9) 0.002159 0.003481</text><text x="1169.5" y="505.5" font-size="10" fill="#000" font-weight="normal" text-anchor="start" textLength="15.5" lengthAdjust="spacingAndGlyphs" stroke="#000" stroke-width="0.25" >100</text><text x="1169.5" y="521.5" font-size="10" fill="#000" font-weight="normal" text-anchor="start" textLength="9" lengthAdjust="spacingAndGlyphs" stroke="#000" stroke-width="0.25" >70</text><text x="1169.5" y="549.5" font-size="10" fill="#000" font-weight="normal" text-anchor="start" textLength="9" lengthAdjust="spacingAndGlyphs" stroke="#000" stroke-width="0.25" >30</text><text x="1169.5" y="564.5" font-size="10" fill="#000" font-weight="normal" text-anchor="start" textLength="5" lengthAdjust="spacingAndGlyphs" stroke="#000" stroke-width="0.25" >0</text><text x="8.5" y="507.7" font-size="10" fill="#000" font-weight="normal" text-anchor="start" textLength="68" lengthAdjust="spacingAndGlyphs" stroke="#000" stroke-width="0.2" >RSI(14) 51.7506</text><rect x="4" y="569" width="1" height="3" fill="#000" /><text x="3.0" y="581" font-size="9.6" fill="#000" font-weight="normal" text-anchor="start" textLength="50.2" lengthAdjust="spacingAndGlyphs" stroke="#000" stroke-width="0.2">30 Jun 2021</text><rect x="68" y="569" width="1" height="3" fill="#000" /><text x="66.9" y="581" font-size="9.6" fill="#000" font-weight="normal" text-anchor="start" textLength="46.7" lengthAdjust="spacingAndGlyphs" stroke="#000" stroke-width="0.2">19 Jul 2021</text><rect x="132" y="569" width="1" height="3" fill="#000" /><text x="130.4" y="581" font-size="9.6" fill="#000" font-weight="normal" text-anchor="start" textLength="48.6" lengthAdjust="spacingAndGlyphs" stroke="#000" stroke-width="0.2">6 Aug 2021</text><rect x="196" y="569" width="1" height="3" fill="#000" /><text x="194.4" y="581" font-size="9.6" fill="#000" font-weight="normal" text-anchor="start" textLength="53.800000000000004" lengthAdjust="spacingAndGlyphs" stroke="#000" stroke-width="0.2">25 Aug 2021</text><rect x="260" y="569" width="1" height="3" fill="#000" /><text x="258.9" y="581" font-size="9.6" fill="#000" font-weight="normal" text-anchor="start" textLength="52.2" lengthAdjust="spacingAndGlyphs" stroke="#000" stroke-width="0.2">13 Sep 2021</text><rect x="324" y="569" width="1" height="3" fill="#000" /><text x="323.0" y="581" font-size="9.6" fill="#000" font-weight="normal" text-anchor="start" textLength="45.900000000000006" lengthAdjust="spacingAndGlyphs" stroke="#000" stroke-width="0.2">1 Oct 2021</text><rect x="388" y="569" width="1" height="3" fill="#000" /><text x="386.79999999999995" y="581" font-size="9.6" fill="#000" font-weight="normal" text-anchor="start" textLength="51.400000000000006" lengthAdjust="spacingAndGlyphs" stroke="#000" stroke-width="0.2">20 Oct 2021</text><rect x="452" y="569" width="1" height="3" fill="#000" /><text x="450.59999999999997" y="581" font-size="9.6" fill="#000" font-weight="normal" text-anchor="start" textLength="49.1" lengthAdjust="spacingAndGlyphs" stroke="#000" stroke-width="0.2">8 Nov 2021</text><rect x="516" y="569" width="1" height="3" fill="#000" /><text x="514.6999999999999" y="581" font-size="9.6" fill="#000" font-weight="normal" text-anchor="start" textLength="54.300000000000004" lengthAdjust="spacingAndGlyphs" stroke="#000" stroke-width="0.2">26 Nov 2021</text><rect x="580" y="569" width="1" height="3" fill="#000" /><text x="579.0" y="581" font-size="9.6" fill="#000" font-weight="normal" text-anchor="start" textLength="51.6" lengthAdjust="spacingAndGlyphs" stroke="#000" stroke-width="0.2">15 Dec 2021</text><rect x="644" y="569" width="1" height="3" fill="#000" /><text x="642.6" y="581" font-size="9.6" fill="#000" font-weight="normal" text-anchor="start" textLength="45.1" lengthAdjust="spacingAndGlyphs" stroke="#000" stroke-width="0.2">3 Jan 2022</text><rect x="708" y="569" width="1" height="3" fill="#000" /><text x="706.4" y="581" font-size="9.6" fill="#000" font-weight="normal" text-anchor="start" textLength="50.800000000000004" lengthAdjust="spacingAndGlyphs" stroke="#000" stroke-width="0.2">21 Jan 2022</text><rect x="772" y="569" width="1" height="3" fill="#000" /><text x="770.6999999999999" y="581" font-size="9.6" fill="#000" font-weight="normal" text-anchor="start" textLength="47.1" lengthAdjust="spacingAndGlyphs" stroke="#000" stroke-width="0.2">9 Feb 2022</text><rect x="836" y="569" width="1" height="3" fill="#000" /><text x="834.6999999999999" y="581" font-size="9.6" fill="#000" font-weight="normal" text-anchor="start" textLength="52.1" lengthAdjust="spacingAndGlyphs" stroke="#000" stroke-width="0.2">28 Feb 2022</text><rect x="900" y="569" width="1" height="3" fill="#000" /><text x="899.3" y="581" font-size="9.6" fill="#000" font-weight="normal" text-anchor="start" textLength="52.1" lengthAdjust="spacingAndGlyphs" stroke="#000" stroke-width="0.2">18 Mar 2022</text><rect x="0" y="589" width="1208" height="1" fill="#f0f0f0" /><rect x="0" y="590" width="1208" height="1" fill="#ffffff" /><rect x="0" y="591" width="1208" height="1" fill="#000" /><rect x="0" y="592" width="1208" height="19" fill="#f0f0f0" /><rect x="0" y="611" width="1208" height="2" fill="#fafafa" /><rect x="0" y="592" width="1" height="19" fill="#6e6e6e" /><rect x="105" y="594" width="1" height="14" fill="#6e6e6e" /><rect x="213" y="594" width="1" height="14" fill="#6e6e6e" /><rect x="537" y="594" width="1" height="14" fill="#6e6e6e" /><rect x="649" y="594" width="1" height="14" fill="#6e6e6e" /><rect x="745" y="594" width="1" height="14" fill="#6e6e6e" /><rect x="825" y="594" width="1" height="14" fill="#6e6e6e" /><rect x="913" y="594" width="1" height="14" fill="#6e6e6e" /><rect x="997" y="594" width="1" height="14" fill="#6e6e6e" /><rect x="1077" y="594" width="1" height="14" fill="#6e6e6e" /><rect x="1153" y="594" width="1" height="14" fill="#6e6e6e" /><rect x="321" y="591" width="108" height="18" fill="#000" /><rect x="322" y="591" width="106" height="17" fill="#ffffff" /><text x="15.3" y="605.5" font-size="12" fill="#6d6d6d" font-weight="normal" text-anchor="start" textLength="79.4" lengthAdjust="spacingAndGlyphs" >USDX,Weekly</text><text x="115.3" y="605.5" font-size="12" fill="#6d6d6d" font-weight="normal" text-anchor="start" textLength="86.0" lengthAdjust="spacingAndGlyphs" >EURUSD-,Daily</text><text x="222.5" y="605.5" font-size="12" fill="#6d6d6d" font-weight="normal" text-anchor="start" textLength="87.9" lengthAdjust="spacingAndGlyphs" >AUDUSD-,Daily</text><text x="332.8" y="605.5" font-size="12" fill="#000000" font-weight="normal" text-anchor="start" textLength="84.2" lengthAdjust="spacingAndGlyphs" >USDCHF-,Daily</text><text x="439.6" y="605.5" font-size="12" fill="#6d6d6d" font-weight="normal" text-anchor="start" textLength="87.10000000000001" lengthAdjust="spacingAndGlyphs" >USDCAD-,Daily</text><text x="548.5999999999999" y="605.5" font-size="12" fill="#6d6d6d" font-weight="normal" text-anchor="start" textLength="88.4" lengthAdjust="spacingAndGlyphs" >USDCNH-,Daily</text><text x="659.3" y="605.5" font-size="12" fill="#6d6d6d" font-weight="normal" text-anchor="start" textLength="75.0" lengthAdjust="spacingAndGlyphs" >XAUUSD-,H1</text><text x="755.3" y="605.5" font-size="12" fill="#6d6d6d" font-weight="normal" text-anchor="start" textLength="58.4" lengthAdjust="spacingAndGlyphs" >UKOil-,H1</text><text x="836.3" y="605.5" font-size="12" fill="#6d6d6d" font-weight="normal" text-anchor="start" textLength="66.4" lengthAdjust="spacingAndGlyphs" >DJ30-,Daily</text><text x="923.3" y="605.5" font-size="12" fill="#6d6d6d" font-weight="normal" text-anchor="start" textLength="63.1" lengthAdjust="spacingAndGlyphs" >UK100-,H1</text><text x="1008.3" y="605.5" font-size="12" fill="#6d6d6d" font-weight="normal" text-anchor="start" textLength="57.4" lengthAdjust="spacingAndGlyphs" >USOil-,H1</text><text x="1087.3" y="605.5" font-size="12" fill="#6d6d6d" font-weight="normal" text-anchor="start" textLength="54.4" lengthAdjust="spacingAndGlyphs" >HK50-,H1</text><path d="M1185,597 L1181.8,600.5 L1185,604 Z" fill="#a0a0a0" shape-rendering="auto"/><path d="M1201,597 L1204.2,600.5 L1201,604 Z" fill="#a0a0a0" shape-rendering="auto"/><path d="M7,38.5 L10.5,34 L14,38.5 Z" fill="#000" shape-rendering="auto"/><text x="19" y="39" font-size="10" fill="#000" font-weight="normal" text-anchor="start" textLength="68" lengthAdjust="spacingAndGlyphs" stroke="#000" stroke-width="0.2" >USDCHF-,Daily</text><text x="92.5" y="39" font-size="10" fill="#000" font-weight="normal" text-anchor="start" textLength="33.5" lengthAdjust="spacingAndGlyphs" stroke="#000" stroke-width="0.2" >0.92944</text><text x="128.2" y="39" font-size="10" fill="#000" font-weight="normal" text-anchor="start" textLength="33.5" lengthAdjust="spacingAndGlyphs" stroke="#000" stroke-width="0.2" >0.93126</text><text x="164.5" y="39" font-size="10" fill="#000" font-weight="normal" text-anchor="start" textLength="33.5" lengthAdjust="spacingAndGlyphs" stroke="#000" stroke-width="0.2" >0.92595</text><text x="200.2" y="39" font-size="10" fill="#000" font-weight="normal" text-anchor="start" textLength="33.5" lengthAdjust="spacingAndGlyphs" stroke="#000" stroke-width="0.2" >0.93072</text><path d="M7,47 H59 V71 H116 V104 H7 Z" fill="url(#gBot)"/><rect x="7" y="47" width="52" height="1" fill="#2a2ad0" /><rect x="11" y="71" width="44" height="1" fill="#8080ff" /><text x="19.5" y="63" font-size="12.5" fill="#fff" font-weight="normal" text-anchor="start" textLength="26" lengthAdjust="spacingAndGlyphs" >SELL</text><text x="26.5" y="98.5" font-size="12" fill="#fff" font-weight="bold" text-anchor="start" textLength="25" lengthAdjust="spacingAndGlyphs" >0.93</text><text x="53" y="99" font-size="34" fill="#fff" font-weight="normal" text-anchor="start" textLength="35" lengthAdjust="spacingAndGlyphs" >07</text><text x="93.5" y="83" font-size="10.5" fill="#fff" font-weight="bold" text-anchor="start" textLength="7.5" lengthAdjust="spacingAndGlyphs" >2</text><path d="M174,47 H226 V104 H118 V71 H174 Z" fill="url(#gBot)"/><rect x="174" y="47" width="52" height="1" fill="#2a2ad0" /><rect x="178" y="71" width="44" height="1" fill="#8080ff" /><text x="187.5" y="63" font-size="12.5" fill="#fff" font-weight="normal" text-anchor="start" textLength="24" lengthAdjust="spacingAndGlyphs" >BUY</text><text x="136.5" y="98.5" font-size="12" fill="#fff" font-weight="bold" text-anchor="start" textLength="25" lengthAdjust="spacingAndGlyphs" >0.93</text><text x="165" y="99" font-size="34" fill="#fff" font-weight="normal" text-anchor="start" textLength="35" lengthAdjust="spacingAndGlyphs" >09</text><text x="205" y="83" font-size="10.5" fill="#fff" font-weight="bold" text-anchor="start" textLength="7.5" lengthAdjust="spacingAndGlyphs" >2</text><rect x="61" y="47" width="111" height="22" fill="#a0a0a0" /><rect x="62" y="48" width="109" height="20" fill="#ffffff" /><rect x="62" y="48" width="20" height="20" fill="url(#gBtn)" /><rect x="82" y="48" width="1" height="20" fill="#c8c8c8" /><rect x="151" y="48" width="20" height="20" fill="url(#gBtn)" /><rect x="150" y="48" width="1" height="20" fill="#c8c8c8" /><path d="M68.5,55.5 h5 l-2.5,3 z" fill="#5060b0" shape-rendering="auto"/><path d="M158.5,59 h5 l-2.5,-3 z" fill="#5060b0" shape-rendering="auto"/><text x="146.5" y="62" font-size="12" fill="#000" font-weight="normal" text-anchor="end" >0.50</text></svg></body></html>
